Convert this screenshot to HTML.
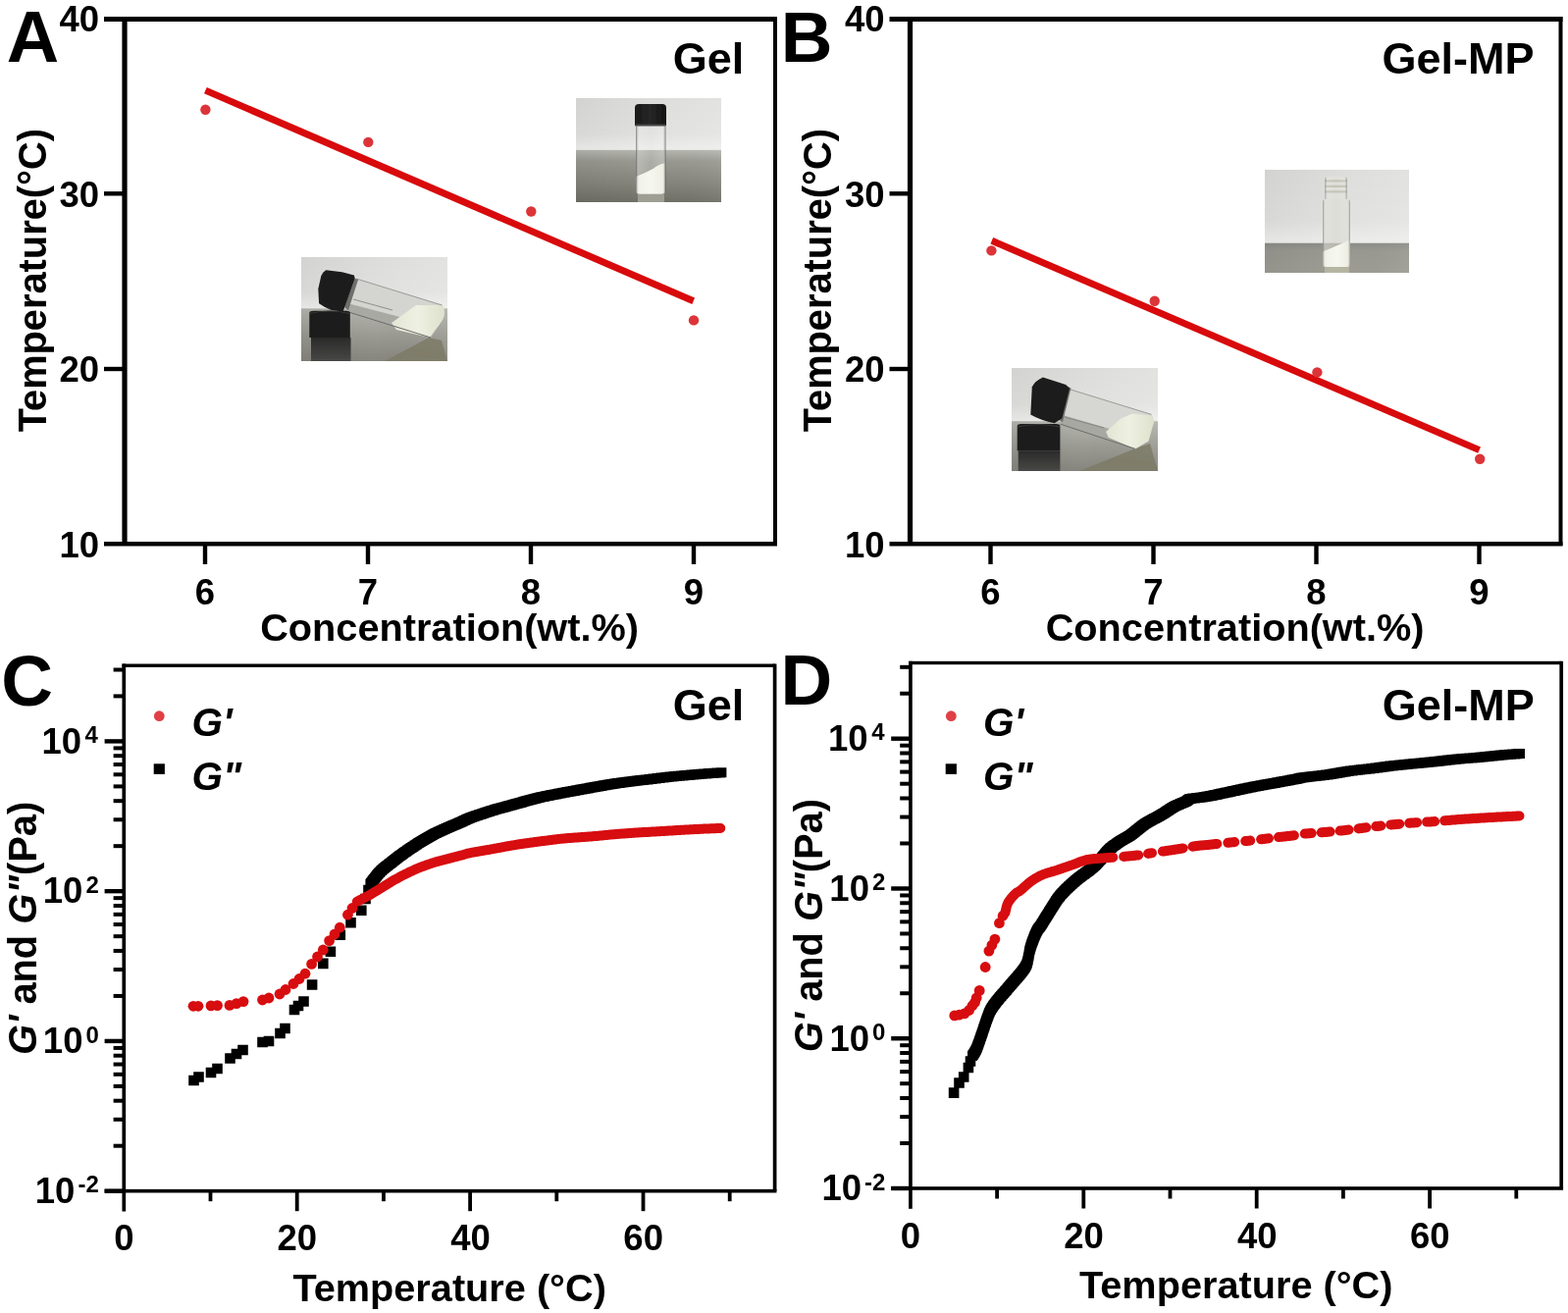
<!DOCTYPE html>
<html><head><meta charset="utf-8"><title>Figure</title>
<style>
html,body{margin:0;padding:0;background:#fff;}
body{width:1598px;height:1338px;overflow:hidden;}
svg{display:block;}
svg text{font-family:"Liberation Sans",Arial,Helvetica,sans-serif;font-weight:bold;fill:#000;}
</style></head><body>
<svg width="1598" height="1338" viewBox="0 0 1598 1338">
<rect width="1598" height="1338" fill="#fff"/>
<rect x="124.00" y="17.00" width="668.00" height="5.00" fill="#000"/>
<rect x="106.00" y="17.00" width="21.00" height="5.00" fill="#000"/>
<rect x="124.40" y="17.00" width="5.20" height="539.00" fill="#000"/>
<rect x="788.00" y="17.00" width="4.00" height="539.00" fill="#000"/>
<rect x="106.00" y="552.00" width="686.00" height="4.50" fill="#000"/>
<rect x="106.00" y="195.10" width="21.00" height="4.40" fill="#000"/>
<rect x="106.00" y="373.80" width="21.00" height="4.40" fill="#000"/>
<rect x="206.80" y="554.00" width="4.40" height="21.00" fill="#000"/>
<rect x="372.80" y="554.00" width="4.40" height="21.00" fill="#000"/>
<rect x="538.80" y="554.00" width="4.40" height="21.00" fill="#000"/>
<rect x="704.80" y="554.00" width="4.40" height="21.00" fill="#000"/>
<text x="60.54" y="31.70" font-size="36.5">40</text>
<text x="60.54" y="210.60" font-size="36.5">30</text>
<text x="60.54" y="389.30" font-size="36.5">20</text>
<text x="60.54" y="568.00" font-size="36.5">10</text>
<text x="198.87" y="615.60" font-size="36.5">6</text>
<text x="364.87" y="615.60" font-size="36.5">7</text>
<text x="530.87" y="615.60" font-size="36.5">8</text>
<text x="696.87" y="615.60" font-size="36.5">9</text>
<text x="265.16" y="652.70" font-size="39.7">Concentration(wt.%)</text>
<text transform="translate(46.60,286.40) rotate(-90)" x="-153.93" y="0" font-size="39.8">Temperature(°C)</text>
<text x="6.65" y="63.10" font-size="74">A</text>
<text x="685.70" y="74.90" font-size="45">Gel</text>
<line x1="209.40" y1="92.10" x2="706.70" y2="306.80" stroke="#d80a0c" stroke-width="7.0" stroke-linecap="butt"/>
<circle cx="209.4" cy="111.8" r="5.2" fill="#dc3438"/>
<circle cx="375.3" cy="144.9" r="5.2" fill="#dc3438"/>
<circle cx="541.3" cy="215.5" r="5.2" fill="#dc3438"/>
<circle cx="707" cy="326.4" r="5.2" fill="#dc3438"/>
<rect x="924.50" y="17.00" width="668.00" height="5.00" fill="#000"/>
<rect x="906.50" y="17.00" width="21.00" height="5.00" fill="#000"/>
<rect x="924.90" y="17.00" width="5.20" height="539.00" fill="#000"/>
<rect x="1588.50" y="17.00" width="4.00" height="539.00" fill="#000"/>
<rect x="906.50" y="552.00" width="686.00" height="4.50" fill="#000"/>
<rect x="906.50" y="195.10" width="21.00" height="4.40" fill="#000"/>
<rect x="906.50" y="373.80" width="21.00" height="4.40" fill="#000"/>
<rect x="1007.30" y="554.00" width="4.40" height="21.00" fill="#000"/>
<rect x="1173.30" y="554.00" width="4.40" height="21.00" fill="#000"/>
<rect x="1339.30" y="554.00" width="4.40" height="21.00" fill="#000"/>
<rect x="1505.30" y="554.00" width="4.40" height="21.00" fill="#000"/>
<text x="861.05" y="31.70" font-size="36.5">40</text>
<text x="861.05" y="210.60" font-size="36.5">30</text>
<text x="861.05" y="389.30" font-size="36.5">20</text>
<text x="861.05" y="568.00" font-size="36.5">10</text>
<text x="999.37" y="615.60" font-size="36.5">6</text>
<text x="1165.37" y="615.60" font-size="36.5">7</text>
<text x="1331.37" y="615.60" font-size="36.5">8</text>
<text x="1497.37" y="615.60" font-size="36.5">9</text>
<text x="1065.66" y="652.70" font-size="39.7">Concentration(wt.%)</text>
<text transform="translate(847.10,286.40) rotate(-90)" x="-153.93" y="0" font-size="39.8">Temperature(°C)</text>
<text x="795.75" y="63.10" font-size="73">B</text>
<text x="1408.53" y="74.90" font-size="45">Gel-MP</text>
<line x1="1010.80" y1="245.30" x2="1507.60" y2="458.60" stroke="#d80a0c" stroke-width="7.0" stroke-linecap="butt"/>
<circle cx="1010.4" cy="255.4" r="5.2" fill="#dc3438"/>
<circle cx="1176.7" cy="306.7" r="5.2" fill="#dc3438"/>
<circle cx="1342.4" cy="379.4" r="5.2" fill="#dc3438"/>
<circle cx="1508.2" cy="467.7" r="5.2" fill="#dc3438"/>
<rect x="124.45" y="676.50" width="665.15" height="3.40" fill="#000"/>
<rect x="787.75" y="676.50" width="3.70" height="537.18" fill="#000"/>
<rect x="124.45" y="676.50" width="3.70" height="558.00" fill="#000"/>
<rect x="106.60" y="1211.88" width="684.85" height="3.60" fill="#000"/>
<rect x="106.60" y="753.20" width="19.70" height="4.40" fill="#000"/>
<rect x="106.60" y="905.96" width="19.70" height="4.40" fill="#000"/>
<rect x="106.60" y="1058.72" width="19.70" height="4.40" fill="#000"/>
<rect x="106.60" y="1211.48" width="19.70" height="4.40" fill="#000"/>
<rect x="115.60" y="860.17" width="10.70" height="4.00" fill="#000"/>
<rect x="115.60" y="833.27" width="10.70" height="4.00" fill="#000"/>
<rect x="115.60" y="814.19" width="10.70" height="4.00" fill="#000"/>
<rect x="115.60" y="799.39" width="10.70" height="4.00" fill="#000"/>
<rect x="115.60" y="787.29" width="10.70" height="4.00" fill="#000"/>
<rect x="115.60" y="777.06" width="10.70" height="4.00" fill="#000"/>
<rect x="115.60" y="768.20" width="10.70" height="4.00" fill="#000"/>
<rect x="115.60" y="760.39" width="10.70" height="4.00" fill="#000"/>
<rect x="115.60" y="1012.93" width="10.70" height="4.00" fill="#000"/>
<rect x="115.60" y="986.03" width="10.70" height="4.00" fill="#000"/>
<rect x="115.60" y="966.95" width="10.70" height="4.00" fill="#000"/>
<rect x="115.60" y="952.15" width="10.70" height="4.00" fill="#000"/>
<rect x="115.60" y="940.05" width="10.70" height="4.00" fill="#000"/>
<rect x="115.60" y="929.82" width="10.70" height="4.00" fill="#000"/>
<rect x="115.60" y="920.96" width="10.70" height="4.00" fill="#000"/>
<rect x="115.60" y="913.15" width="10.70" height="4.00" fill="#000"/>
<rect x="115.60" y="1165.69" width="10.70" height="4.00" fill="#000"/>
<rect x="115.60" y="1138.79" width="10.70" height="4.00" fill="#000"/>
<rect x="115.60" y="1119.71" width="10.70" height="4.00" fill="#000"/>
<rect x="115.60" y="1104.91" width="10.70" height="4.00" fill="#000"/>
<rect x="115.60" y="1092.81" width="10.70" height="4.00" fill="#000"/>
<rect x="115.60" y="1082.58" width="10.70" height="4.00" fill="#000"/>
<rect x="115.60" y="1073.72" width="10.70" height="4.00" fill="#000"/>
<rect x="115.60" y="1065.91" width="10.70" height="4.00" fill="#000"/>
<rect x="115.60" y="707.41" width="10.70" height="4.00" fill="#000"/>
<rect x="115.60" y="680.51" width="10.70" height="4.00" fill="#000"/>
<rect x="212.60" y="1213.68" width="3.80" height="10.50" fill="#000"/>
<rect x="300.80" y="1213.68" width="3.80" height="20.50" fill="#000"/>
<rect x="389.00" y="1213.68" width="3.80" height="10.50" fill="#000"/>
<rect x="477.20" y="1213.68" width="3.80" height="20.50" fill="#000"/>
<rect x="565.40" y="1213.68" width="3.80" height="10.50" fill="#000"/>
<rect x="653.60" y="1213.68" width="3.80" height="20.50" fill="#000"/>
<rect x="741.80" y="1213.68" width="3.80" height="10.50" fill="#000"/>
<text x="116.17" y="1274.20" font-size="36.5">0</text>
<text x="282.53" y="1274.20" font-size="36.5">20</text>
<text x="459.30" y="1274.20" font-size="36.5">40</text>
<text x="635.33" y="1274.20" font-size="36.5">60</text>
<text x="298.40" y="1325.60" font-size="39.7">Temperature (°C)</text>
<text x="86.60" y="757.00" font-size="24">4</text>
<text x="42.40" y="767.70" font-size="36.5">10</text>
<text x="87.44" y="909.76" font-size="24">2</text>
<text x="43.73" y="920.46" font-size="36.5">10</text>
<text x="87.44" y="1062.52" font-size="24">0</text>
<text x="43.85" y="1073.22" font-size="36.5">10</text>
<text x="79.40" y="1215.28" font-size="24">-2</text>
<text x="35.80" y="1225.98" font-size="36.5">10</text>
<text transform="translate(36.80,945.50) rotate(-90)" x="-129.55" y="0" font-size="39.8"><tspan font-style="italic">G'</tspan> and <tspan font-style="italic">G"</tspan>(Pa)</text>
<text x="1.18" y="718.80" font-size="73">C</text>
<text x="685.80" y="734.10" font-size="45">Gel</text>
<circle cx="162.3" cy="729.7" r="5.4" fill="#e04045"/>
<rect x="156.70" y="778.30" width="11.20" height="10.60" fill="#000"/>
<text x="195.38" y="750.30" font-size="40.5" font-style="italic">G'</text>
<text x="195.38" y="805.20" font-size="40.5" font-style="italic">G&quot;</text>
<rect x="926.05" y="673.80" width="665.15" height="3.40" fill="#000"/>
<rect x="1589.35" y="673.80" width="3.70" height="537.18" fill="#000"/>
<rect x="926.05" y="673.80" width="3.70" height="558.00" fill="#000"/>
<rect x="908.20" y="1209.18" width="684.85" height="3.60" fill="#000"/>
<rect x="908.20" y="750.50" width="19.70" height="4.40" fill="#000"/>
<rect x="908.20" y="903.26" width="19.70" height="4.40" fill="#000"/>
<rect x="908.20" y="1056.02" width="19.70" height="4.40" fill="#000"/>
<rect x="908.20" y="1208.78" width="19.70" height="4.40" fill="#000"/>
<rect x="917.20" y="857.47" width="10.70" height="4.00" fill="#000"/>
<rect x="917.20" y="830.57" width="10.70" height="4.00" fill="#000"/>
<rect x="917.20" y="811.49" width="10.70" height="4.00" fill="#000"/>
<rect x="917.20" y="796.69" width="10.70" height="4.00" fill="#000"/>
<rect x="917.20" y="784.59" width="10.70" height="4.00" fill="#000"/>
<rect x="917.20" y="774.36" width="10.70" height="4.00" fill="#000"/>
<rect x="917.20" y="765.50" width="10.70" height="4.00" fill="#000"/>
<rect x="917.20" y="757.69" width="10.70" height="4.00" fill="#000"/>
<rect x="917.20" y="1010.23" width="10.70" height="4.00" fill="#000"/>
<rect x="917.20" y="983.33" width="10.70" height="4.00" fill="#000"/>
<rect x="917.20" y="964.25" width="10.70" height="4.00" fill="#000"/>
<rect x="917.20" y="949.45" width="10.70" height="4.00" fill="#000"/>
<rect x="917.20" y="937.35" width="10.70" height="4.00" fill="#000"/>
<rect x="917.20" y="927.12" width="10.70" height="4.00" fill="#000"/>
<rect x="917.20" y="918.26" width="10.70" height="4.00" fill="#000"/>
<rect x="917.20" y="910.45" width="10.70" height="4.00" fill="#000"/>
<rect x="917.20" y="1162.99" width="10.70" height="4.00" fill="#000"/>
<rect x="917.20" y="1136.09" width="10.70" height="4.00" fill="#000"/>
<rect x="917.20" y="1117.01" width="10.70" height="4.00" fill="#000"/>
<rect x="917.20" y="1102.21" width="10.70" height="4.00" fill="#000"/>
<rect x="917.20" y="1090.11" width="10.70" height="4.00" fill="#000"/>
<rect x="917.20" y="1079.88" width="10.70" height="4.00" fill="#000"/>
<rect x="917.20" y="1071.02" width="10.70" height="4.00" fill="#000"/>
<rect x="917.20" y="1063.21" width="10.70" height="4.00" fill="#000"/>
<rect x="917.20" y="704.71" width="10.70" height="4.00" fill="#000"/>
<rect x="917.20" y="677.81" width="10.70" height="4.00" fill="#000"/>
<rect x="1014.20" y="1210.98" width="3.80" height="10.50" fill="#000"/>
<rect x="1102.40" y="1210.98" width="3.80" height="20.50" fill="#000"/>
<rect x="1190.60" y="1210.98" width="3.80" height="10.50" fill="#000"/>
<rect x="1278.80" y="1210.98" width="3.80" height="20.50" fill="#000"/>
<rect x="1367.00" y="1210.98" width="3.80" height="10.50" fill="#000"/>
<rect x="1455.20" y="1210.98" width="3.80" height="20.50" fill="#000"/>
<rect x="1543.40" y="1210.98" width="3.80" height="10.50" fill="#000"/>
<text x="917.77" y="1271.50" font-size="36.5">0</text>
<text x="1084.13" y="1271.50" font-size="36.5">20</text>
<text x="1260.90" y="1271.50" font-size="36.5">40</text>
<text x="1436.93" y="1271.50" font-size="36.5">60</text>
<text x="1100.00" y="1322.90" font-size="39.7">Temperature (°C)</text>
<text x="888.20" y="754.30" font-size="24">4</text>
<text x="844.00" y="765.00" font-size="36.5">10</text>
<text x="889.04" y="907.06" font-size="24">2</text>
<text x="845.33" y="917.76" font-size="36.5">10</text>
<text x="889.04" y="1059.82" font-size="24">0</text>
<text x="845.45" y="1070.52" font-size="36.5">10</text>
<text x="881.00" y="1212.58" font-size="24">-2</text>
<text x="837.41" y="1223.28" font-size="36.5">10</text>
<text transform="translate(838.40,942.80) rotate(-90)" x="-129.55" y="0" font-size="39.8"><tspan font-style="italic">G'</tspan> and <tspan font-style="italic">G"</tspan>(Pa)</text>
<text x="795.55" y="718.00" font-size="73">D</text>
<text x="1408.73" y="734.10" font-size="45">Gel-MP</text>
<circle cx="969.3" cy="729.7" r="5.4" fill="#e04045"/>
<rect x="963.70" y="778.30" width="11.20" height="10.60" fill="#000"/>
<text x="1001.98" y="750.30" font-size="40.5" font-style="italic">G'</text>
<text x="1001.98" y="805.20" font-size="40.5" font-style="italic">G&quot;</text>
<path d="M192.2 1095.7h10.6v10.6h-10.6zM197.2 1092.2h10.6v10.6h-10.6zM209.7 1087.7h10.6v10.6h-10.6zM216.2 1083.7h10.6v10.6h-10.6zM229.2 1073.2h10.6v10.6h-10.6zM235.7 1068.7h10.6v10.6h-10.6zM242.2 1064.7h10.6v10.6h-10.6zM262.2 1056.7h10.6v10.6h-10.6zM268.7 1055.7h10.6v10.6h-10.6zM280.2 1047.7h10.6v10.6h-10.6zM285.2 1042.7h10.6v10.6h-10.6zM294.7 1023.7h10.6v10.6h-10.6zM298.7 1019.7h10.6v10.6h-10.6zM304.2 1015.2h10.6v10.6h-10.6zM312.8 998.2h10.6v10.6h-10.6zM324.0 976.6h10.6v10.6h-10.6zM331.6 964.5h10.6v10.6h-10.6zM341.5 947.5h10.6v10.6h-10.6zM352.2 934.9h10.6v10.6h-10.6zM363.0 922.4h10.6v10.6h-10.6zM367.2 910.7h10.6v10.6h-10.6zM370.2 901.7h10.6v10.6h-10.6z" fill="#000"/>
<path d="M372.4 895.8h10.0v10.0h-10.0zM373.0 895.0h10.0v10.0h-10.0zM373.6 894.2h10.0v10.0h-10.0zM374.2 893.4h10.0v10.0h-10.0zM374.8 892.6h10.0v10.0h-10.0zM375.4 891.8h10.0v10.0h-10.0zM376.0 891.0h10.0v10.0h-10.0zM376.7 890.2h10.0v10.0h-10.0zM377.3 889.5h10.0v10.0h-10.0zM377.9 888.7h10.0v10.0h-10.0zM378.5 887.9h10.0v10.0h-10.0zM379.1 887.1h10.0v10.0h-10.0zM379.8 886.3h10.0v10.0h-10.0zM380.4 885.6h10.0v10.0h-10.0zM381.1 884.8h10.0v10.0h-10.0zM381.8 884.1h10.0v10.0h-10.0zM382.4 883.4h10.0v10.0h-10.0zM383.2 882.6h10.0v10.0h-10.0zM383.9 882.0h10.0v10.0h-10.0zM384.6 881.3h10.0v10.0h-10.0zM385.4 880.6h10.0v10.0h-10.0zM386.1 880.0h10.0v10.0h-10.0zM386.9 879.3h10.0v10.0h-10.0zM387.7 878.7h10.0v10.0h-10.0zM388.4 878.1h10.0v10.0h-10.0zM389.2 877.5h10.0v10.0h-10.0zM390.0 876.9h10.0v10.0h-10.0zM390.8 876.2h10.0v10.0h-10.0zM391.6 875.6h10.0v10.0h-10.0zM392.4 875.0h10.0v10.0h-10.0zM393.2 874.4h10.0v10.0h-10.0zM394.0 873.8h10.0v10.0h-10.0zM394.8 873.2h10.0v10.0h-10.0zM395.5 872.5h10.0v10.0h-10.0zM396.3 871.9h10.0v10.0h-10.0zM397.1 871.3h10.0v10.0h-10.0zM397.9 870.7h10.0v10.0h-10.0zM398.7 870.1h10.0v10.0h-10.0zM399.5 869.4h10.0v10.0h-10.0zM400.3 868.8h10.0v10.0h-10.0zM401.1 868.2h10.0v10.0h-10.0zM401.9 867.6h10.0v10.0h-10.0zM402.7 867.0h10.0v10.0h-10.0zM403.5 866.4h10.0v10.0h-10.0zM404.3 865.9h10.0v10.0h-10.0zM405.1 865.3h10.0v10.0h-10.0zM405.9 864.7h10.0v10.0h-10.0zM406.7 864.1h10.0v10.0h-10.0zM407.5 863.5h10.0v10.0h-10.0zM408.4 863.0h10.0v10.0h-10.0zM409.2 862.4h10.0v10.0h-10.0zM410.0 861.8h10.0v10.0h-10.0zM410.8 861.3h10.0v10.0h-10.0zM411.6 860.7h10.0v10.0h-10.0zM412.5 860.1h10.0v10.0h-10.0zM413.3 859.6h10.0v10.0h-10.0zM414.1 859.0h10.0v10.0h-10.0zM415.0 858.5h10.0v10.0h-10.0zM415.8 857.9h10.0v10.0h-10.0zM416.6 857.4h10.0v10.0h-10.0zM417.5 856.8h10.0v10.0h-10.0zM418.3 856.3h10.0v10.0h-10.0zM419.1 855.7h10.0v10.0h-10.0zM420.0 855.2h10.0v10.0h-10.0zM420.8 854.6h10.0v10.0h-10.0zM421.7 854.1h10.0v10.0h-10.0zM422.5 853.6h10.0v10.0h-10.0zM423.4 853.0h10.0v10.0h-10.0zM424.2 852.5h10.0v10.0h-10.0zM425.1 852.0h10.0v10.0h-10.0zM425.9 851.5h10.0v10.0h-10.0zM426.8 850.9h10.0v10.0h-10.0zM427.6 850.4h10.0v10.0h-10.0zM428.5 849.9h10.0v10.0h-10.0zM429.3 849.4h10.0v10.0h-10.0zM430.2 848.9h10.0v10.0h-10.0zM431.1 848.4h10.0v10.0h-10.0zM431.9 847.9h10.0v10.0h-10.0zM432.8 847.4h10.0v10.0h-10.0zM433.7 846.9h10.0v10.0h-10.0zM434.6 846.4h10.0v10.0h-10.0zM435.4 846.0h10.0v10.0h-10.0zM436.3 845.5h10.0v10.0h-10.0zM437.2 845.0h10.0v10.0h-10.0zM438.1 844.6h10.0v10.0h-10.0zM439.0 844.1h10.0v10.0h-10.0zM439.9 843.7h10.0v10.0h-10.0zM440.8 843.3h10.0v10.0h-10.0zM441.7 842.8h10.0v10.0h-10.0zM442.6 842.4h10.0v10.0h-10.0zM443.5 842.0h10.0v10.0h-10.0zM444.4 841.6h10.0v10.0h-10.0zM445.3 841.2h10.0v10.0h-10.0zM446.3 840.8h10.0v10.0h-10.0zM447.2 840.3h10.0v10.0h-10.0zM448.1 839.9h10.0v10.0h-10.0zM449.0 839.5h10.0v10.0h-10.0zM449.9 839.1h10.0v10.0h-10.0zM450.8 838.7h10.0v10.0h-10.0zM451.7 838.3h10.0v10.0h-10.0zM452.6 837.9h10.0v10.0h-10.0zM453.6 837.5h10.0v10.0h-10.0zM454.5 837.1h10.0v10.0h-10.0zM455.4 836.7h10.0v10.0h-10.0zM456.3 836.3h10.0v10.0h-10.0zM457.2 835.9h10.0v10.0h-10.0zM458.2 835.6h10.0v10.0h-10.0zM459.1 835.2h10.0v10.0h-10.0zM460.0 834.8h10.0v10.0h-10.0zM460.9 834.4h10.0v10.0h-10.0zM461.9 834.0h10.0v10.0h-10.0zM462.8 833.6h10.0v10.0h-10.0zM463.7 833.2h10.0v10.0h-10.0zM464.6 832.8h10.0v10.0h-10.0zM465.5 832.4h10.0v10.0h-10.0zM466.4 832.0h10.0v10.0h-10.0zM467.3 831.6h10.0v10.0h-10.0zM468.2 831.1h10.0v10.0h-10.0zM469.1 830.7h10.0v10.0h-10.0zM470.0 830.3h10.0v10.0h-10.0zM470.9 829.8h10.0v10.0h-10.0zM471.9 829.4h10.0v10.0h-10.0zM472.8 829.1h10.0v10.0h-10.0zM473.7 828.7h10.0v10.0h-10.0zM474.6 828.3h10.0v10.0h-10.0zM475.6 828.0h10.0v10.0h-10.0zM476.5 827.6h10.0v10.0h-10.0zM477.5 827.3h10.0v10.0h-10.0zM478.4 827.0h10.0v10.0h-10.0zM479.4 826.6h10.0v10.0h-10.0zM480.3 826.3h10.0v10.0h-10.0zM481.2 826.0h10.0v10.0h-10.0zM482.2 825.7h10.0v10.0h-10.0zM483.1 825.3h10.0v10.0h-10.0zM484.1 825.0h10.0v10.0h-10.0zM485.0 824.7h10.0v10.0h-10.0zM486.0 824.4h10.0v10.0h-10.0zM486.9 824.1h10.0v10.0h-10.0zM487.9 823.7h10.0v10.0h-10.0zM488.8 823.4h10.0v10.0h-10.0zM489.8 823.1h10.0v10.0h-10.0zM490.7 822.8h10.0v10.0h-10.0zM491.7 822.5h10.0v10.0h-10.0zM492.6 822.2h10.0v10.0h-10.0zM493.6 821.9h10.0v10.0h-10.0zM494.5 821.6h10.0v10.0h-10.0zM495.5 821.3h10.0v10.0h-10.0zM496.4 821.0h10.0v10.0h-10.0zM497.4 820.7h10.0v10.0h-10.0zM498.4 820.4h10.0v10.0h-10.0zM499.3 820.1h10.0v10.0h-10.0zM500.3 819.8h10.0v10.0h-10.0zM501.2 819.6h10.0v10.0h-10.0zM502.2 819.3h10.0v10.0h-10.0zM503.2 819.0h10.0v10.0h-10.0zM504.1 818.7h10.0v10.0h-10.0zM505.1 818.5h10.0v10.0h-10.0zM506.0 818.2h10.0v10.0h-10.0zM507.0 817.9h10.0v10.0h-10.0zM508.0 817.7h10.0v10.0h-10.0zM508.9 817.4h10.0v10.0h-10.0zM509.9 817.2h10.0v10.0h-10.0zM510.9 816.9h10.0v10.0h-10.0zM511.8 816.6h10.0v10.0h-10.0zM512.8 816.4h10.0v10.0h-10.0zM513.8 816.1h10.0v10.0h-10.0zM514.7 815.9h10.0v10.0h-10.0zM515.7 815.6h10.0v10.0h-10.0zM516.7 815.4h10.0v10.0h-10.0zM517.6 815.1h10.0v10.0h-10.0zM518.6 814.8h10.0v10.0h-10.0zM519.6 814.6h10.0v10.0h-10.0zM520.5 814.3h10.0v10.0h-10.0zM521.5 814.0h10.0v10.0h-10.0zM522.5 813.8h10.0v10.0h-10.0zM523.4 813.5h10.0v10.0h-10.0zM524.4 813.2h10.0v10.0h-10.0zM525.3 812.9h10.0v10.0h-10.0zM526.3 812.7h10.0v10.0h-10.0zM527.3 812.4h10.0v10.0h-10.0zM528.2 812.1h10.0v10.0h-10.0zM529.2 811.8h10.0v10.0h-10.0zM530.1 811.6h10.0v10.0h-10.0zM531.1 811.3h10.0v10.0h-10.0zM532.1 811.0h10.0v10.0h-10.0zM533.0 810.7h10.0v10.0h-10.0zM534.0 810.5h10.0v10.0h-10.0zM535.0 810.2h10.0v10.0h-10.0zM535.9 809.9h10.0v10.0h-10.0zM536.9 809.7h10.0v10.0h-10.0zM537.9 809.4h10.0v10.0h-10.0zM538.8 809.2h10.0v10.0h-10.0zM539.8 808.9h10.0v10.0h-10.0zM540.8 808.7h10.0v10.0h-10.0zM541.7 808.4h10.0v10.0h-10.0zM542.7 808.2h10.0v10.0h-10.0zM543.7 808.0h10.0v10.0h-10.0zM544.7 807.8h10.0v10.0h-10.0zM545.6 807.5h10.0v10.0h-10.0zM546.6 807.3h10.0v10.0h-10.0zM547.6 807.1h10.0v10.0h-10.0zM548.6 806.9h10.0v10.0h-10.0zM549.5 806.7h10.0v10.0h-10.0zM550.5 806.5h10.0v10.0h-10.0zM551.5 806.3h10.0v10.0h-10.0zM552.5 806.1h10.0v10.0h-10.0zM553.5 805.9h10.0v10.0h-10.0zM554.4 805.7h10.0v10.0h-10.0zM555.4 805.5h10.0v10.0h-10.0zM556.4 805.3h10.0v10.0h-10.0zM557.4 805.1h10.0v10.0h-10.0zM558.4 804.9h10.0v10.0h-10.0zM559.3 804.7h10.0v10.0h-10.0zM560.3 804.6h10.0v10.0h-10.0zM561.3 804.4h10.0v10.0h-10.0zM562.3 804.2h10.0v10.0h-10.0zM563.3 804.0h10.0v10.0h-10.0zM564.3 803.8h10.0v10.0h-10.0zM565.2 803.6h10.0v10.0h-10.0zM566.2 803.4h10.0v10.0h-10.0zM567.2 803.2h10.0v10.0h-10.0zM568.2 803.0h10.0v10.0h-10.0zM569.2 802.8h10.0v10.0h-10.0zM570.1 802.7h10.0v10.0h-10.0zM571.1 802.5h10.0v10.0h-10.0zM572.1 802.3h10.0v10.0h-10.0zM573.1 802.1h10.0v10.0h-10.0zM574.1 802.0h10.0v10.0h-10.0zM575.1 801.8h10.0v10.0h-10.0zM576.1 801.6h10.0v10.0h-10.0zM577.0 801.4h10.0v10.0h-10.0zM578.0 801.2h10.0v10.0h-10.0zM579.0 801.1h10.0v10.0h-10.0zM580.0 800.9h10.0v10.0h-10.0zM581.0 800.7h10.0v10.0h-10.0zM582.0 800.5h10.0v10.0h-10.0zM582.9 800.3h10.0v10.0h-10.0zM583.9 800.2h10.0v10.0h-10.0zM584.9 800.0h10.0v10.0h-10.0zM585.9 799.8h10.0v10.0h-10.0zM586.9 799.6h10.0v10.0h-10.0zM587.9 799.4h10.0v10.0h-10.0zM588.8 799.3h10.0v10.0h-10.0zM589.8 799.1h10.0v10.0h-10.0zM590.8 798.9h10.0v10.0h-10.0zM591.8 798.7h10.0v10.0h-10.0zM592.8 798.5h10.0v10.0h-10.0zM593.8 798.4h10.0v10.0h-10.0zM594.7 798.2h10.0v10.0h-10.0zM595.7 798.0h10.0v10.0h-10.0zM596.7 797.8h10.0v10.0h-10.0zM597.7 797.6h10.0v10.0h-10.0zM598.7 797.5h10.0v10.0h-10.0zM599.7 797.3h10.0v10.0h-10.0zM600.6 797.1h10.0v10.0h-10.0zM601.6 796.9h10.0v10.0h-10.0zM602.6 796.8h10.0v10.0h-10.0zM603.6 796.6h10.0v10.0h-10.0zM604.6 796.4h10.0v10.0h-10.0zM605.6 796.2h10.0v10.0h-10.0zM606.6 796.0h10.0v10.0h-10.0zM607.5 795.9h10.0v10.0h-10.0zM608.5 795.7h10.0v10.0h-10.0zM609.5 795.5h10.0v10.0h-10.0zM610.5 795.3h10.0v10.0h-10.0zM611.5 795.2h10.0v10.0h-10.0zM612.5 795.0h10.0v10.0h-10.0zM613.4 794.8h10.0v10.0h-10.0zM614.4 794.7h10.0v10.0h-10.0zM615.4 794.5h10.0v10.0h-10.0zM616.4 794.3h10.0v10.0h-10.0zM617.4 794.2h10.0v10.0h-10.0zM618.4 794.0h10.0v10.0h-10.0zM619.4 793.9h10.0v10.0h-10.0zM620.4 793.7h10.0v10.0h-10.0zM621.3 793.6h10.0v10.0h-10.0zM622.3 793.4h10.0v10.0h-10.0zM623.3 793.3h10.0v10.0h-10.0zM624.3 793.1h10.0v10.0h-10.0zM625.3 793.0h10.0v10.0h-10.0zM626.3 792.9h10.0v10.0h-10.0zM627.3 792.7h10.0v10.0h-10.0zM628.3 792.6h10.0v10.0h-10.0zM629.3 792.5h10.0v10.0h-10.0zM630.3 792.3h10.0v10.0h-10.0zM631.3 792.2h10.0v10.0h-10.0zM632.2 792.1h10.0v10.0h-10.0zM633.2 791.9h10.0v10.0h-10.0zM634.2 791.8h10.0v10.0h-10.0zM635.2 791.7h10.0v10.0h-10.0zM636.2 791.6h10.0v10.0h-10.0zM637.2 791.4h10.0v10.0h-10.0zM638.2 791.3h10.0v10.0h-10.0zM639.2 791.2h10.0v10.0h-10.0zM640.2 791.1h10.0v10.0h-10.0zM641.2 790.9h10.0v10.0h-10.0zM642.2 790.8h10.0v10.0h-10.0zM643.2 790.7h10.0v10.0h-10.0zM644.1 790.6h10.0v10.0h-10.0zM645.1 790.5h10.0v10.0h-10.0zM646.1 790.3h10.0v10.0h-10.0zM647.1 790.2h10.0v10.0h-10.0zM648.1 790.1h10.0v10.0h-10.0zM649.1 790.0h10.0v10.0h-10.0zM650.1 789.9h10.0v10.0h-10.0zM651.1 789.8h10.0v10.0h-10.0zM652.1 789.7h10.0v10.0h-10.0zM653.1 789.6h10.0v10.0h-10.0zM654.1 789.5h10.0v10.0h-10.0zM655.1 789.4h10.0v10.0h-10.0zM656.1 789.3h10.0v10.0h-10.0zM657.1 789.1h10.0v10.0h-10.0zM658.1 789.0h10.0v10.0h-10.0zM659.1 788.9h10.0v10.0h-10.0zM660.0 788.8h10.0v10.0h-10.0zM661.0 788.6h10.0v10.0h-10.0zM662.0 788.5h10.0v10.0h-10.0zM663.0 788.4h10.0v10.0h-10.0zM664.0 788.3h10.0v10.0h-10.0zM665.0 788.1h10.0v10.0h-10.0zM666.0 788.0h10.0v10.0h-10.0zM667.0 787.9h10.0v10.0h-10.0zM668.0 787.8h10.0v10.0h-10.0zM669.0 787.6h10.0v10.0h-10.0zM670.0 787.5h10.0v10.0h-10.0zM671.0 787.4h10.0v10.0h-10.0zM672.0 787.3h10.0v10.0h-10.0zM672.9 787.2h10.0v10.0h-10.0zM673.9 787.0h10.0v10.0h-10.0zM674.9 786.9h10.0v10.0h-10.0zM675.9 786.8h10.0v10.0h-10.0zM676.9 786.7h10.0v10.0h-10.0zM677.9 786.6h10.0v10.0h-10.0zM678.9 786.5h10.0v10.0h-10.0zM679.9 786.4h10.0v10.0h-10.0zM680.9 786.3h10.0v10.0h-10.0zM681.9 786.2h10.0v10.0h-10.0zM682.9 786.1h10.0v10.0h-10.0zM683.9 786.0h10.0v10.0h-10.0zM684.9 785.9h10.0v10.0h-10.0zM685.9 785.8h10.0v10.0h-10.0zM686.9 785.8h10.0v10.0h-10.0zM687.9 785.7h10.0v10.0h-10.0zM688.9 785.6h10.0v10.0h-10.0zM689.9 785.5h10.0v10.0h-10.0zM690.9 785.4h10.0v10.0h-10.0zM691.9 785.3h10.0v10.0h-10.0zM692.9 785.2h10.0v10.0h-10.0zM693.8 785.1h10.0v10.0h-10.0zM694.8 785.0h10.0v10.0h-10.0zM695.8 785.0h10.0v10.0h-10.0zM696.8 784.9h10.0v10.0h-10.0zM697.8 784.8h10.0v10.0h-10.0zM698.8 784.7h10.0v10.0h-10.0zM699.8 784.6h10.0v10.0h-10.0zM700.8 784.5h10.0v10.0h-10.0zM701.8 784.4h10.0v10.0h-10.0zM702.8 784.3h10.0v10.0h-10.0zM703.8 784.3h10.0v10.0h-10.0zM704.8 784.2h10.0v10.0h-10.0zM705.8 784.1h10.0v10.0h-10.0zM706.8 784.0h10.0v10.0h-10.0zM707.8 783.9h10.0v10.0h-10.0zM708.8 783.8h10.0v10.0h-10.0zM709.8 783.8h10.0v10.0h-10.0zM710.8 783.7h10.0v10.0h-10.0zM711.8 783.6h10.0v10.0h-10.0zM712.8 783.5h10.0v10.0h-10.0zM713.8 783.4h10.0v10.0h-10.0zM714.8 783.4h10.0v10.0h-10.0zM715.8 783.3h10.0v10.0h-10.0zM716.8 783.2h10.0v10.0h-10.0zM717.8 783.1h10.0v10.0h-10.0zM718.8 783.1h10.0v10.0h-10.0zM719.8 783.0h10.0v10.0h-10.0zM720.8 782.9h10.0v10.0h-10.0zM721.8 782.9h10.0v10.0h-10.0zM722.8 782.8h10.0v10.0h-10.0zM723.7 782.7h10.0v10.0h-10.0zM724.7 782.7h10.0v10.0h-10.0zM725.7 782.6h10.0v10.0h-10.0zM726.7 782.5h10.0v10.0h-10.0zM727.7 782.5h10.0v10.0h-10.0zM728.7 782.4h10.0v10.0h-10.0zM729.7 782.3h10.0v10.0h-10.0zM730.4 782.3h10.0v10.0h-10.0z" fill="#000"/>
<path d="M966.8 1108.3h10.6v10.6h-10.6zM972.2 1098.2h10.6v10.6h-10.6zM976.9 1092.2h10.6v10.6h-10.6zM981.6 1082.7h10.6v10.6h-10.6zM983.7 1076.2h10.6v10.6h-10.6z" fill="#000"/>
<path d="M986.0 1070.9h10.0v10.0h-10.0zM986.6 1070.1h10.0v10.0h-10.0zM987.1 1069.3h10.0v10.0h-10.0zM987.7 1068.4h10.0v10.0h-10.0zM988.2 1067.6h10.0v10.0h-10.0zM988.7 1066.7h10.0v10.0h-10.0zM989.2 1065.8h10.0v10.0h-10.0zM989.7 1064.9h10.0v10.0h-10.0zM990.1 1064.0h10.0v10.0h-10.0zM990.5 1063.1h10.0v10.0h-10.0zM990.8 1062.2h10.0v10.0h-10.0zM991.2 1061.2h10.0v10.0h-10.0zM991.5 1060.3h10.0v10.0h-10.0zM991.9 1059.4h10.0v10.0h-10.0zM992.2 1058.4h10.0v10.0h-10.0zM992.6 1057.5h10.0v10.0h-10.0zM992.9 1056.6h10.0v10.0h-10.0zM993.2 1055.6h10.0v10.0h-10.0zM993.6 1054.7h10.0v10.0h-10.0zM993.9 1053.7h10.0v10.0h-10.0zM994.2 1052.8h10.0v10.0h-10.0zM994.5 1051.8h10.0v10.0h-10.0zM994.9 1050.9h10.0v10.0h-10.0zM995.2 1049.9h10.0v10.0h-10.0zM995.5 1049.0h10.0v10.0h-10.0zM995.9 1048.1h10.0v10.0h-10.0zM996.2 1047.1h10.0v10.0h-10.0zM996.5 1046.2h10.0v10.0h-10.0zM996.8 1045.2h10.0v10.0h-10.0zM997.1 1044.3h10.0v10.0h-10.0zM997.4 1043.3h10.0v10.0h-10.0zM997.7 1042.4h10.0v10.0h-10.0zM998.1 1041.4h10.0v10.0h-10.0zM998.4 1040.5h10.0v10.0h-10.0zM998.7 1039.5h10.0v10.0h-10.0zM999.0 1038.6h10.0v10.0h-10.0zM999.4 1037.6h10.0v10.0h-10.0zM999.7 1036.7h10.0v10.0h-10.0zM1000.0 1035.7h10.0v10.0h-10.0zM1000.3 1034.8h10.0v10.0h-10.0zM1000.7 1033.8h10.0v10.0h-10.0zM1001.0 1032.9h10.0v10.0h-10.0zM1001.4 1032.0h10.0v10.0h-10.0zM1001.7 1031.0h10.0v10.0h-10.0zM1002.1 1030.1h10.0v10.0h-10.0zM1002.4 1029.2h10.0v10.0h-10.0zM1002.7 1028.2h10.0v10.0h-10.0zM1003.1 1027.3h10.0v10.0h-10.0zM1003.5 1026.4h10.0v10.0h-10.0zM1003.9 1025.5h10.0v10.0h-10.0zM1004.4 1024.6h10.0v10.0h-10.0zM1004.9 1023.7h10.0v10.0h-10.0zM1005.4 1022.8h10.0v10.0h-10.0zM1005.9 1022.0h10.0v10.0h-10.0zM1006.5 1021.2h10.0v10.0h-10.0zM1007.0 1020.3h10.0v10.0h-10.0zM1007.6 1019.5h10.0v10.0h-10.0zM1008.2 1018.7h10.0v10.0h-10.0zM1008.8 1017.9h10.0v10.0h-10.0zM1009.4 1017.1h10.0v10.0h-10.0zM1010.0 1016.3h10.0v10.0h-10.0zM1010.6 1015.5h10.0v10.0h-10.0zM1011.2 1014.7h10.0v10.0h-10.0zM1011.9 1014.0h10.0v10.0h-10.0zM1012.5 1013.2h10.0v10.0h-10.0zM1013.1 1012.4h10.0v10.0h-10.0zM1013.8 1011.6h10.0v10.0h-10.0zM1014.4 1010.9h10.0v10.0h-10.0zM1015.1 1010.1h10.0v10.0h-10.0zM1015.7 1009.4h10.0v10.0h-10.0zM1016.4 1008.6h10.0v10.0h-10.0zM1017.1 1007.9h10.0v10.0h-10.0zM1017.7 1007.1h10.0v10.0h-10.0zM1018.4 1006.4h10.0v10.0h-10.0zM1019.1 1005.6h10.0v10.0h-10.0zM1019.7 1004.9h10.0v10.0h-10.0zM1020.4 1004.1h10.0v10.0h-10.0zM1021.0 1003.4h10.0v10.0h-10.0zM1021.7 1002.6h10.0v10.0h-10.0zM1022.3 1001.8h10.0v10.0h-10.0zM1023.0 1001.1h10.0v10.0h-10.0zM1023.6 1000.3h10.0v10.0h-10.0zM1024.3 999.6h10.0v10.0h-10.0zM1024.9 998.8h10.0v10.0h-10.0zM1025.6 998.1h10.0v10.0h-10.0zM1026.2 997.3h10.0v10.0h-10.0zM1026.9 996.5h10.0v10.0h-10.0zM1027.5 995.8h10.0v10.0h-10.0zM1028.2 995.0h10.0v10.0h-10.0zM1028.8 994.3h10.0v10.0h-10.0zM1029.5 993.5h10.0v10.0h-10.0zM1030.2 992.8h10.0v10.0h-10.0zM1030.8 992.0h10.0v10.0h-10.0zM1031.5 991.3h10.0v10.0h-10.0zM1032.1 990.5h10.0v10.0h-10.0zM1032.8 989.8h10.0v10.0h-10.0zM1033.4 989.0h10.0v10.0h-10.0zM1034.1 988.2h10.0v10.0h-10.0zM1034.7 987.5h10.0v10.0h-10.0zM1035.3 986.7h10.0v10.0h-10.0zM1036.0 985.9h10.0v10.0h-10.0zM1036.6 985.1h10.0v10.0h-10.0zM1037.2 984.3h10.0v10.0h-10.0zM1037.8 983.5h10.0v10.0h-10.0zM1038.4 982.7h10.0v10.0h-10.0zM1038.9 981.9h10.0v10.0h-10.0zM1039.5 981.0h10.0v10.0h-10.0zM1040.0 980.2h10.0v10.0h-10.0zM1040.5 979.3h10.0v10.0h-10.0zM1040.9 978.4h10.0v10.0h-10.0zM1041.4 977.5h10.0v10.0h-10.0zM1041.7 976.6h10.0v10.0h-10.0zM1042.0 975.6h10.0v10.0h-10.0zM1042.2 974.6h10.0v10.0h-10.0zM1042.5 973.7h10.0v10.0h-10.0zM1042.7 972.7h10.0v10.0h-10.0zM1042.8 971.7h10.0v10.0h-10.0zM1043.0 970.7h10.0v10.0h-10.0zM1043.3 969.7h10.0v10.0h-10.0zM1043.5 968.8h10.0v10.0h-10.0zM1043.6 967.8h10.0v10.0h-10.0zM1043.8 966.8h10.0v10.0h-10.0zM1044.0 965.8h10.0v10.0h-10.0zM1044.1 964.8h10.0v10.0h-10.0zM1044.3 963.8h10.0v10.0h-10.0zM1044.6 962.9h10.0v10.0h-10.0zM1044.8 961.9h10.0v10.0h-10.0zM1045.1 960.9h10.0v10.0h-10.0zM1045.4 960.0h10.0v10.0h-10.0zM1045.7 959.0h10.0v10.0h-10.0zM1046.0 958.1h10.0v10.0h-10.0zM1046.3 957.1h10.0v10.0h-10.0zM1046.6 956.2h10.0v10.0h-10.0zM1047.0 955.2h10.0v10.0h-10.0zM1047.3 954.3h10.0v10.0h-10.0zM1047.7 953.4h10.0v10.0h-10.0zM1048.0 952.4h10.0v10.0h-10.0zM1048.4 951.5h10.0v10.0h-10.0zM1048.8 950.6h10.0v10.0h-10.0zM1049.1 949.6h10.0v10.0h-10.0zM1049.5 948.7h10.0v10.0h-10.0zM1049.9 947.8h10.0v10.0h-10.0zM1050.3 946.9h10.0v10.0h-10.0zM1050.7 946.0h10.0v10.0h-10.0zM1051.1 945.1h10.0v10.0h-10.0zM1051.6 944.2h10.0v10.0h-10.0zM1052.0 943.3h10.0v10.0h-10.0zM1052.5 942.4h10.0v10.0h-10.0zM1053.1 941.6h10.0v10.0h-10.0zM1053.7 940.8h10.0v10.0h-10.0zM1054.3 940.0h10.0v10.0h-10.0zM1054.9 939.2h10.0v10.0h-10.0zM1055.5 938.4h10.0v10.0h-10.0zM1056.1 937.6h10.0v10.0h-10.0zM1056.6 936.7h10.0v10.0h-10.0zM1057.1 935.9h10.0v10.0h-10.0zM1057.7 935.0h10.0v10.0h-10.0zM1058.2 934.2h10.0v10.0h-10.0zM1058.7 933.3h10.0v10.0h-10.0zM1059.2 932.5h10.0v10.0h-10.0zM1059.8 931.6h10.0v10.0h-10.0zM1060.3 930.8h10.0v10.0h-10.0zM1060.8 929.9h10.0v10.0h-10.0zM1061.3 929.1h10.0v10.0h-10.0zM1061.9 928.2h10.0v10.0h-10.0zM1062.4 927.4h10.0v10.0h-10.0zM1062.9 926.5h10.0v10.0h-10.0zM1063.5 925.7h10.0v10.0h-10.0zM1064.0 924.8h10.0v10.0h-10.0zM1064.5 924.0h10.0v10.0h-10.0zM1065.1 923.1h10.0v10.0h-10.0zM1065.6 922.3h10.0v10.0h-10.0zM1066.1 921.5h10.0v10.0h-10.0zM1066.7 920.6h10.0v10.0h-10.0zM1067.2 919.8h10.0v10.0h-10.0zM1067.7 918.9h10.0v10.0h-10.0zM1068.2 918.1h10.0v10.0h-10.0zM1068.8 917.2h10.0v10.0h-10.0zM1069.3 916.4h10.0v10.0h-10.0zM1069.8 915.5h10.0v10.0h-10.0zM1070.4 914.7h10.0v10.0h-10.0zM1070.9 913.8h10.0v10.0h-10.0zM1071.4 913.0h10.0v10.0h-10.0zM1072.0 912.2h10.0v10.0h-10.0zM1072.6 911.3h10.0v10.0h-10.0zM1073.2 910.5h10.0v10.0h-10.0zM1073.8 909.7h10.0v10.0h-10.0zM1074.4 908.9h10.0v10.0h-10.0zM1075.0 908.2h10.0v10.0h-10.0zM1075.6 907.4h10.0v10.0h-10.0zM1076.3 906.6h10.0v10.0h-10.0zM1077.0 905.9h10.0v10.0h-10.0zM1077.6 905.1h10.0v10.0h-10.0zM1078.3 904.4h10.0v10.0h-10.0zM1079.0 903.7h10.0v10.0h-10.0zM1079.7 903.0h10.0v10.0h-10.0zM1080.4 902.3h10.0v10.0h-10.0zM1081.1 901.5h10.0v10.0h-10.0zM1081.8 900.8h10.0v10.0h-10.0zM1082.5 900.2h10.0v10.0h-10.0zM1083.3 899.5h10.0v10.0h-10.0zM1084.0 898.8h10.0v10.0h-10.0zM1084.7 898.1h10.0v10.0h-10.0zM1085.5 897.4h10.0v10.0h-10.0zM1086.2 896.7h10.0v10.0h-10.0zM1086.9 896.1h10.0v10.0h-10.0zM1087.7 895.4h10.0v10.0h-10.0zM1088.4 894.7h10.0v10.0h-10.0zM1089.2 894.1h10.0v10.0h-10.0zM1089.9 893.4h10.0v10.0h-10.0zM1090.7 892.8h10.0v10.0h-10.0zM1091.4 892.1h10.0v10.0h-10.0zM1092.2 891.5h10.0v10.0h-10.0zM1093.0 890.8h10.0v10.0h-10.0zM1093.8 890.2h10.0v10.0h-10.0zM1094.6 889.6h10.0v10.0h-10.0zM1095.3 889.0h10.0v10.0h-10.0zM1096.1 888.4h10.0v10.0h-10.0zM1096.9 887.8h10.0v10.0h-10.0zM1097.7 887.2h10.0v10.0h-10.0zM1098.6 886.6h10.0v10.0h-10.0zM1099.4 886.0h10.0v10.0h-10.0zM1100.2 885.4h10.0v10.0h-10.0zM1101.0 884.8h10.0v10.0h-10.0zM1101.8 884.3h10.0v10.0h-10.0zM1102.6 883.7h10.0v10.0h-10.0zM1103.4 883.1h10.0v10.0h-10.0zM1104.2 882.5h10.0v10.0h-10.0zM1105.0 881.9h10.0v10.0h-10.0zM1105.8 881.3h10.0v10.0h-10.0zM1106.6 880.6h10.0v10.0h-10.0zM1107.3 880.0h10.0v10.0h-10.0zM1108.1 879.3h10.0v10.0h-10.0zM1108.9 878.7h10.0v10.0h-10.0zM1109.6 878.0h10.0v10.0h-10.0zM1110.3 877.3h10.0v10.0h-10.0zM1111.1 876.7h10.0v10.0h-10.0zM1111.8 876.0h10.0v10.0h-10.0zM1112.5 875.2h10.0v10.0h-10.0zM1113.2 874.5h10.0v10.0h-10.0zM1113.9 873.8h10.0v10.0h-10.0zM1114.5 873.1h10.0v10.0h-10.0zM1115.2 872.3h10.0v10.0h-10.0zM1115.9 871.6h10.0v10.0h-10.0zM1116.6 870.9h10.0v10.0h-10.0zM1117.2 870.1h10.0v10.0h-10.0zM1117.9 869.3h10.0v10.0h-10.0zM1118.5 868.6h10.0v10.0h-10.0zM1119.1 867.8h10.0v10.0h-10.0zM1119.8 867.0h10.0v10.0h-10.0zM1120.4 866.2h10.0v10.0h-10.0zM1121.0 865.4h10.0v10.0h-10.0zM1121.6 864.7h10.0v10.0h-10.0zM1122.3 863.9h10.0v10.0h-10.0zM1122.9 863.1h10.0v10.0h-10.0zM1123.6 862.4h10.0v10.0h-10.0zM1124.3 861.7h10.0v10.0h-10.0zM1125.0 861.0h10.0v10.0h-10.0zM1125.8 860.3h10.0v10.0h-10.0zM1126.5 859.6h10.0v10.0h-10.0zM1127.3 859.0h10.0v10.0h-10.0zM1128.0 858.4h10.0v10.0h-10.0zM1128.8 857.8h10.0v10.0h-10.0zM1129.6 857.1h10.0v10.0h-10.0zM1130.4 856.5h10.0v10.0h-10.0zM1131.2 856.0h10.0v10.0h-10.0zM1132.0 855.4h10.0v10.0h-10.0zM1132.9 854.8h10.0v10.0h-10.0zM1133.7 854.2h10.0v10.0h-10.0zM1134.5 853.7h10.0v10.0h-10.0zM1135.3 853.1h10.0v10.0h-10.0zM1136.2 852.5h10.0v10.0h-10.0zM1137.0 852.0h10.0v10.0h-10.0zM1137.8 851.4h10.0v10.0h-10.0zM1138.7 850.9h10.0v10.0h-10.0zM1139.6 850.4h10.0v10.0h-10.0zM1140.4 850.0h10.0v10.0h-10.0zM1141.3 849.5h10.0v10.0h-10.0zM1142.2 849.0h10.0v10.0h-10.0zM1143.1 848.5h10.0v10.0h-10.0zM1143.9 848.0h10.0v10.0h-10.0zM1144.8 847.5h10.0v10.0h-10.0zM1145.6 847.0h10.0v10.0h-10.0zM1146.5 846.4h10.0v10.0h-10.0zM1147.3 845.9h10.0v10.0h-10.0zM1148.1 845.3h10.0v10.0h-10.0zM1148.9 844.7h10.0v10.0h-10.0zM1149.7 844.1h10.0v10.0h-10.0zM1150.5 843.5h10.0v10.0h-10.0zM1151.3 842.8h10.0v10.0h-10.0zM1152.1 842.2h10.0v10.0h-10.0zM1152.8 841.6h10.0v10.0h-10.0zM1153.6 840.9h10.0v10.0h-10.0zM1154.4 840.3h10.0v10.0h-10.0zM1155.2 839.7h10.0v10.0h-10.0zM1155.9 839.1h10.0v10.0h-10.0zM1156.7 838.4h10.0v10.0h-10.0zM1157.5 837.8h10.0v10.0h-10.0zM1158.3 837.2h10.0v10.0h-10.0zM1159.1 836.6h10.0v10.0h-10.0zM1159.9 836.0h10.0v10.0h-10.0zM1160.7 835.4h10.0v10.0h-10.0zM1161.5 834.8h10.0v10.0h-10.0zM1162.3 834.2h10.0v10.0h-10.0zM1163.2 833.7h10.0v10.0h-10.0zM1164.0 833.2h10.0v10.0h-10.0zM1164.9 832.7h10.0v10.0h-10.0zM1165.7 832.2h10.0v10.0h-10.0zM1166.6 831.7h10.0v10.0h-10.0zM1167.5 831.2h10.0v10.0h-10.0zM1168.4 830.7h10.0v10.0h-10.0zM1169.3 830.3h10.0v10.0h-10.0zM1170.2 829.8h10.0v10.0h-10.0zM1171.0 829.3h10.0v10.0h-10.0zM1171.9 828.9h10.0v10.0h-10.0zM1172.8 828.4h10.0v10.0h-10.0zM1173.7 828.0h10.0v10.0h-10.0zM1174.6 827.5h10.0v10.0h-10.0zM1175.5 827.0h10.0v10.0h-10.0zM1176.4 826.5h10.0v10.0h-10.0zM1177.2 826.0h10.0v10.0h-10.0zM1178.1 825.5h10.0v10.0h-10.0zM1178.9 825.0h10.0v10.0h-10.0zM1179.8 824.5h10.0v10.0h-10.0zM1180.6 824.0h10.0v10.0h-10.0zM1181.5 823.4h10.0v10.0h-10.0zM1182.3 822.9h10.0v10.0h-10.0zM1183.2 822.3h10.0v10.0h-10.0zM1184.0 821.8h10.0v10.0h-10.0zM1184.8 821.3h10.0v10.0h-10.0zM1185.7 820.7h10.0v10.0h-10.0zM1186.5 820.2h10.0v10.0h-10.0zM1187.4 819.6h10.0v10.0h-10.0zM1188.2 819.1h10.0v10.0h-10.0zM1189.1 818.6h10.0v10.0h-10.0zM1189.9 818.1h10.0v10.0h-10.0zM1190.8 817.6h10.0v10.0h-10.0zM1191.6 817.1h10.0v10.0h-10.0zM1192.5 816.6h10.0v10.0h-10.0zM1193.4 816.1h10.0v10.0h-10.0zM1194.3 815.7h10.0v10.0h-10.0zM1195.2 815.3h10.0v10.0h-10.0zM1196.1 814.9h10.0v10.0h-10.0zM1197.1 814.5h10.0v10.0h-10.0zM1198.0 814.1h10.0v10.0h-10.0zM1198.9 813.7h10.0v10.0h-10.0zM1199.8 813.3h10.0v10.0h-10.0zM1200.8 813.0h10.0v10.0h-10.0zM1201.7 812.6h10.0v10.0h-10.0zM1202.6 812.2h10.0v10.0h-10.0zM1203.5 811.8h10.0v10.0h-10.0zM1204.4 811.3h10.0v10.0h-10.0zM1205.2 810.7h10.0v10.0h-10.0zM1205.9 810.0h10.0v10.0h-10.0zM1206.7 809.4h10.0v10.0h-10.0zM1207.6 809.1h10.0v10.0h-10.0zM1208.6 808.9h10.0v10.0h-10.0zM1209.6 808.7h10.0v10.0h-10.0zM1210.6 808.6h10.0v10.0h-10.0zM1211.6 808.5h10.0v10.0h-10.0zM1212.6 808.4h10.0v10.0h-10.0zM1213.6 808.2h10.0v10.0h-10.0zM1214.6 808.1h10.0v10.0h-10.0zM1215.6 808.0h10.0v10.0h-10.0zM1216.5 807.9h10.0v10.0h-10.0zM1217.5 807.8h10.0v10.0h-10.0zM1218.5 807.7h10.0v10.0h-10.0zM1219.5 807.5h10.0v10.0h-10.0zM1220.5 807.4h10.0v10.0h-10.0zM1221.5 807.3h10.0v10.0h-10.0zM1222.5 807.1h10.0v10.0h-10.0zM1223.5 807.0h10.0v10.0h-10.0zM1224.5 806.8h10.0v10.0h-10.0zM1225.5 806.6h10.0v10.0h-10.0zM1226.4 806.4h10.0v10.0h-10.0zM1227.4 806.2h10.0v10.0h-10.0zM1228.4 806.0h10.0v10.0h-10.0zM1229.4 805.9h10.0v10.0h-10.0zM1230.4 805.7h10.0v10.0h-10.0zM1231.3 805.5h10.0v10.0h-10.0zM1232.3 805.3h10.0v10.0h-10.0zM1233.3 805.1h10.0v10.0h-10.0zM1234.3 804.9h10.0v10.0h-10.0zM1235.3 804.7h10.0v10.0h-10.0zM1236.2 804.4h10.0v10.0h-10.0zM1237.2 804.2h10.0v10.0h-10.0zM1238.2 804.0h10.0v10.0h-10.0zM1239.2 803.8h10.0v10.0h-10.0zM1240.2 803.6h10.0v10.0h-10.0zM1241.1 803.4h10.0v10.0h-10.0zM1242.1 803.2h10.0v10.0h-10.0zM1243.1 803.0h10.0v10.0h-10.0zM1244.1 802.8h10.0v10.0h-10.0zM1245.0 802.6h10.0v10.0h-10.0zM1246.0 802.4h10.0v10.0h-10.0zM1247.0 802.2h10.0v10.0h-10.0zM1248.0 802.0h10.0v10.0h-10.0zM1249.0 801.8h10.0v10.0h-10.0zM1249.9 801.6h10.0v10.0h-10.0zM1250.9 801.3h10.0v10.0h-10.0zM1251.9 801.1h10.0v10.0h-10.0zM1252.9 800.9h10.0v10.0h-10.0zM1253.8 800.7h10.0v10.0h-10.0zM1254.8 800.5h10.0v10.0h-10.0zM1255.8 800.3h10.0v10.0h-10.0zM1256.8 800.1h10.0v10.0h-10.0zM1257.8 799.9h10.0v10.0h-10.0zM1258.7 799.6h10.0v10.0h-10.0zM1259.7 799.4h10.0v10.0h-10.0zM1260.7 799.2h10.0v10.0h-10.0zM1261.7 799.0h10.0v10.0h-10.0zM1262.6 798.8h10.0v10.0h-10.0zM1263.6 798.6h10.0v10.0h-10.0zM1264.6 798.4h10.0v10.0h-10.0zM1265.6 798.2h10.0v10.0h-10.0zM1266.6 798.0h10.0v10.0h-10.0zM1267.5 797.8h10.0v10.0h-10.0zM1268.5 797.6h10.0v10.0h-10.0zM1269.5 797.4h10.0v10.0h-10.0zM1270.5 797.2h10.0v10.0h-10.0zM1271.5 797.0h10.0v10.0h-10.0zM1272.4 796.8h10.0v10.0h-10.0zM1273.4 796.6h10.0v10.0h-10.0zM1274.4 796.4h10.0v10.0h-10.0zM1275.4 796.2h10.0v10.0h-10.0zM1276.4 796.1h10.0v10.0h-10.0zM1277.4 795.9h10.0v10.0h-10.0zM1278.3 795.7h10.0v10.0h-10.0zM1279.3 795.5h10.0v10.0h-10.0zM1280.3 795.3h10.0v10.0h-10.0zM1281.3 795.2h10.0v10.0h-10.0zM1282.3 795.0h10.0v10.0h-10.0zM1283.3 794.8h10.0v10.0h-10.0zM1284.2 794.6h10.0v10.0h-10.0zM1285.2 794.5h10.0v10.0h-10.0zM1286.2 794.3h10.0v10.0h-10.0zM1287.2 794.1h10.0v10.0h-10.0zM1288.2 793.9h10.0v10.0h-10.0zM1289.2 793.8h10.0v10.0h-10.0zM1290.2 793.6h10.0v10.0h-10.0zM1291.1 793.4h10.0v10.0h-10.0zM1292.1 793.2h10.0v10.0h-10.0zM1293.1 793.1h10.0v10.0h-10.0zM1294.1 792.9h10.0v10.0h-10.0zM1295.1 792.7h10.0v10.0h-10.0zM1296.1 792.5h10.0v10.0h-10.0zM1297.0 792.3h10.0v10.0h-10.0zM1298.0 792.2h10.0v10.0h-10.0zM1299.0 792.0h10.0v10.0h-10.0zM1300.0 791.8h10.0v10.0h-10.0zM1301.0 791.6h10.0v10.0h-10.0zM1302.0 791.4h10.0v10.0h-10.0zM1302.9 791.3h10.0v10.0h-10.0zM1303.9 791.1h10.0v10.0h-10.0zM1304.9 790.9h10.0v10.0h-10.0zM1305.9 790.7h10.0v10.0h-10.0zM1306.9 790.5h10.0v10.0h-10.0zM1307.9 790.4h10.0v10.0h-10.0zM1308.8 790.2h10.0v10.0h-10.0zM1309.8 790.0h10.0v10.0h-10.0zM1310.8 789.8h10.0v10.0h-10.0zM1311.8 789.6h10.0v10.0h-10.0zM1312.8 789.5h10.0v10.0h-10.0zM1313.8 789.3h10.0v10.0h-10.0zM1314.7 789.1h10.0v10.0h-10.0zM1315.7 788.9h10.0v10.0h-10.0zM1316.7 788.7h10.0v10.0h-10.0zM1317.7 788.5h10.0v10.0h-10.0zM1318.7 788.3h10.0v10.0h-10.0zM1319.6 788.1h10.0v10.0h-10.0zM1320.6 787.8h10.0v10.0h-10.0zM1321.6 787.6h10.0v10.0h-10.0zM1322.6 787.5h10.0v10.0h-10.0zM1323.6 787.3h10.0v10.0h-10.0zM1324.6 787.2h10.0v10.0h-10.0zM1325.5 787.0h10.0v10.0h-10.0zM1326.5 786.9h10.0v10.0h-10.0zM1327.5 786.8h10.0v10.0h-10.0zM1328.5 786.7h10.0v10.0h-10.0zM1329.5 786.5h10.0v10.0h-10.0zM1330.5 786.4h10.0v10.0h-10.0zM1331.5 786.3h10.0v10.0h-10.0zM1332.5 786.2h10.0v10.0h-10.0zM1333.5 786.1h10.0v10.0h-10.0zM1334.5 786.0h10.0v10.0h-10.0zM1335.5 785.9h10.0v10.0h-10.0zM1336.5 785.8h10.0v10.0h-10.0zM1337.5 785.7h10.0v10.0h-10.0zM1338.5 785.6h10.0v10.0h-10.0zM1339.5 785.5h10.0v10.0h-10.0zM1340.4 785.4h10.0v10.0h-10.0zM1341.4 785.2h10.0v10.0h-10.0zM1342.4 785.1h10.0v10.0h-10.0zM1343.4 785.0h10.0v10.0h-10.0zM1344.4 784.9h10.0v10.0h-10.0zM1345.4 784.8h10.0v10.0h-10.0zM1346.4 784.6h10.0v10.0h-10.0zM1347.4 784.5h10.0v10.0h-10.0zM1348.4 784.4h10.0v10.0h-10.0zM1349.4 784.2h10.0v10.0h-10.0zM1350.4 784.1h10.0v10.0h-10.0zM1351.4 783.9h10.0v10.0h-10.0zM1352.3 783.7h10.0v10.0h-10.0zM1353.3 783.6h10.0v10.0h-10.0zM1354.3 783.4h10.0v10.0h-10.0zM1355.3 783.2h10.0v10.0h-10.0zM1356.3 783.1h10.0v10.0h-10.0zM1357.3 782.9h10.0v10.0h-10.0zM1358.2 782.7h10.0v10.0h-10.0zM1359.2 782.5h10.0v10.0h-10.0zM1360.2 782.4h10.0v10.0h-10.0zM1361.2 782.2h10.0v10.0h-10.0zM1362.2 782.0h10.0v10.0h-10.0zM1363.2 781.8h10.0v10.0h-10.0zM1364.2 781.7h10.0v10.0h-10.0zM1365.1 781.5h10.0v10.0h-10.0zM1366.1 781.4h10.0v10.0h-10.0zM1367.1 781.2h10.0v10.0h-10.0zM1368.1 781.0h10.0v10.0h-10.0zM1369.1 780.9h10.0v10.0h-10.0zM1370.1 780.8h10.0v10.0h-10.0zM1371.1 780.6h10.0v10.0h-10.0zM1372.1 780.5h10.0v10.0h-10.0zM1373.1 780.4h10.0v10.0h-10.0zM1374.1 780.2h10.0v10.0h-10.0zM1375.0 780.1h10.0v10.0h-10.0zM1376.0 780.0h10.0v10.0h-10.0zM1377.0 779.9h10.0v10.0h-10.0zM1378.0 779.8h10.0v10.0h-10.0zM1379.0 779.7h10.0v10.0h-10.0zM1380.0 779.6h10.0v10.0h-10.0zM1381.0 779.5h10.0v10.0h-10.0zM1382.0 779.3h10.0v10.0h-10.0zM1383.0 779.2h10.0v10.0h-10.0zM1384.0 779.1h10.0v10.0h-10.0zM1385.0 779.0h10.0v10.0h-10.0zM1386.0 778.9h10.0v10.0h-10.0zM1387.0 778.8h10.0v10.0h-10.0zM1388.0 778.7h10.0v10.0h-10.0zM1389.0 778.6h10.0v10.0h-10.0zM1390.0 778.5h10.0v10.0h-10.0zM1391.0 778.4h10.0v10.0h-10.0zM1391.9 778.2h10.0v10.0h-10.0zM1392.9 778.1h10.0v10.0h-10.0zM1393.9 778.0h10.0v10.0h-10.0zM1394.9 777.9h10.0v10.0h-10.0zM1395.9 777.7h10.0v10.0h-10.0zM1396.9 777.6h10.0v10.0h-10.0zM1397.9 777.5h10.0v10.0h-10.0zM1398.9 777.4h10.0v10.0h-10.0zM1399.9 777.2h10.0v10.0h-10.0zM1400.9 777.1h10.0v10.0h-10.0zM1401.9 777.0h10.0v10.0h-10.0zM1402.9 776.8h10.0v10.0h-10.0zM1403.8 776.7h10.0v10.0h-10.0zM1404.8 776.6h10.0v10.0h-10.0zM1405.8 776.4h10.0v10.0h-10.0zM1406.8 776.3h10.0v10.0h-10.0zM1407.8 776.2h10.0v10.0h-10.0zM1408.8 776.0h10.0v10.0h-10.0zM1409.8 775.9h10.0v10.0h-10.0zM1410.8 775.8h10.0v10.0h-10.0zM1411.8 775.6h10.0v10.0h-10.0zM1412.8 775.5h10.0v10.0h-10.0zM1413.8 775.4h10.0v10.0h-10.0zM1414.8 775.3h10.0v10.0h-10.0zM1415.7 775.2h10.0v10.0h-10.0zM1416.7 775.1h10.0v10.0h-10.0zM1417.7 775.0h10.0v10.0h-10.0zM1418.7 774.9h10.0v10.0h-10.0zM1419.7 774.8h10.0v10.0h-10.0zM1420.7 774.7h10.0v10.0h-10.0zM1421.7 774.6h10.0v10.0h-10.0zM1422.7 774.5h10.0v10.0h-10.0zM1423.7 774.4h10.0v10.0h-10.0zM1424.7 774.3h10.0v10.0h-10.0zM1425.7 774.2h10.0v10.0h-10.0zM1426.7 774.1h10.0v10.0h-10.0zM1427.7 774.0h10.0v10.0h-10.0zM1428.7 773.9h10.0v10.0h-10.0zM1429.7 773.8h10.0v10.0h-10.0zM1430.7 773.7h10.0v10.0h-10.0zM1431.7 773.6h10.0v10.0h-10.0zM1432.7 773.5h10.0v10.0h-10.0zM1433.7 773.4h10.0v10.0h-10.0zM1434.7 773.3h10.0v10.0h-10.0zM1435.7 773.2h10.0v10.0h-10.0zM1436.6 773.1h10.0v10.0h-10.0zM1437.6 773.0h10.0v10.0h-10.0zM1438.6 772.9h10.0v10.0h-10.0zM1439.6 772.9h10.0v10.0h-10.0zM1440.6 772.8h10.0v10.0h-10.0zM1441.6 772.7h10.0v10.0h-10.0zM1442.6 772.6h10.0v10.0h-10.0zM1443.6 772.5h10.0v10.0h-10.0zM1444.6 772.4h10.0v10.0h-10.0zM1445.6 772.3h10.0v10.0h-10.0zM1446.6 772.2h10.0v10.0h-10.0zM1447.6 772.1h10.0v10.0h-10.0zM1448.6 772.0h10.0v10.0h-10.0zM1449.6 771.9h10.0v10.0h-10.0zM1450.6 771.8h10.0v10.0h-10.0zM1451.6 771.7h10.0v10.0h-10.0zM1452.6 771.6h10.0v10.0h-10.0zM1453.6 771.5h10.0v10.0h-10.0zM1454.6 771.4h10.0v10.0h-10.0zM1455.6 771.3h10.0v10.0h-10.0zM1456.6 771.2h10.0v10.0h-10.0zM1457.5 771.1h10.0v10.0h-10.0zM1458.5 771.0h10.0v10.0h-10.0zM1459.5 770.9h10.0v10.0h-10.0zM1460.5 770.8h10.0v10.0h-10.0zM1461.5 770.7h10.0v10.0h-10.0zM1462.5 770.5h10.0v10.0h-10.0zM1463.5 770.4h10.0v10.0h-10.0zM1464.5 770.3h10.0v10.0h-10.0zM1465.5 770.2h10.0v10.0h-10.0zM1466.5 770.1h10.0v10.0h-10.0zM1467.5 770.0h10.0v10.0h-10.0zM1468.5 769.9h10.0v10.0h-10.0zM1469.5 769.7h10.0v10.0h-10.0zM1470.5 769.6h10.0v10.0h-10.0zM1471.5 769.5h10.0v10.0h-10.0zM1472.5 769.4h10.0v10.0h-10.0zM1473.4 769.3h10.0v10.0h-10.0zM1474.4 769.2h10.0v10.0h-10.0zM1475.4 769.1h10.0v10.0h-10.0zM1476.4 769.0h10.0v10.0h-10.0zM1477.4 768.9h10.0v10.0h-10.0zM1478.4 768.8h10.0v10.0h-10.0zM1479.4 768.7h10.0v10.0h-10.0zM1480.4 768.6h10.0v10.0h-10.0zM1481.4 768.5h10.0v10.0h-10.0zM1482.4 768.4h10.0v10.0h-10.0zM1483.4 768.3h10.0v10.0h-10.0zM1484.4 768.2h10.0v10.0h-10.0zM1485.4 768.1h10.0v10.0h-10.0zM1486.4 768.1h10.0v10.0h-10.0zM1487.4 768.0h10.0v10.0h-10.0zM1488.4 767.9h10.0v10.0h-10.0zM1489.4 767.8h10.0v10.0h-10.0zM1490.4 767.8h10.0v10.0h-10.0zM1491.4 767.7h10.0v10.0h-10.0zM1492.4 767.6h10.0v10.0h-10.0zM1493.4 767.5h10.0v10.0h-10.0zM1494.4 767.5h10.0v10.0h-10.0zM1495.4 767.4h10.0v10.0h-10.0zM1496.4 767.3h10.0v10.0h-10.0zM1497.4 767.2h10.0v10.0h-10.0zM1498.4 767.2h10.0v10.0h-10.0zM1499.3 767.1h10.0v10.0h-10.0zM1500.3 767.0h10.0v10.0h-10.0zM1501.3 766.9h10.0v10.0h-10.0zM1502.3 766.8h10.0v10.0h-10.0zM1503.3 766.7h10.0v10.0h-10.0zM1504.3 766.6h10.0v10.0h-10.0zM1505.3 766.5h10.0v10.0h-10.0zM1506.3 766.4h10.0v10.0h-10.0zM1507.3 766.3h10.0v10.0h-10.0zM1508.3 766.2h10.0v10.0h-10.0zM1509.3 766.1h10.0v10.0h-10.0zM1510.3 766.0h10.0v10.0h-10.0zM1511.3 765.9h10.0v10.0h-10.0zM1512.3 765.8h10.0v10.0h-10.0zM1513.3 765.7h10.0v10.0h-10.0zM1514.3 765.6h10.0v10.0h-10.0zM1515.3 765.5h10.0v10.0h-10.0zM1516.3 765.4h10.0v10.0h-10.0zM1517.3 765.3h10.0v10.0h-10.0zM1518.3 765.2h10.0v10.0h-10.0zM1519.2 765.1h10.0v10.0h-10.0zM1520.2 765.0h10.0v10.0h-10.0zM1521.2 764.9h10.0v10.0h-10.0zM1522.2 764.8h10.0v10.0h-10.0zM1523.2 764.7h10.0v10.0h-10.0zM1524.2 764.6h10.0v10.0h-10.0zM1525.2 764.5h10.0v10.0h-10.0zM1526.2 764.4h10.0v10.0h-10.0zM1527.2 764.3h10.0v10.0h-10.0zM1528.2 764.2h10.0v10.0h-10.0zM1529.2 764.1h10.0v10.0h-10.0zM1530.2 764.1h10.0v10.0h-10.0zM1531.2 764.0h10.0v10.0h-10.0zM1532.2 763.9h10.0v10.0h-10.0zM1533.2 763.8h10.0v10.0h-10.0zM1534.2 763.7h10.0v10.0h-10.0zM1535.2 763.7h10.0v10.0h-10.0zM1536.2 763.6h10.0v10.0h-10.0zM1537.2 763.5h10.0v10.0h-10.0zM1538.2 763.4h10.0v10.0h-10.0zM1539.2 763.4h10.0v10.0h-10.0zM1540.2 763.3h10.0v10.0h-10.0zM1541.2 763.2h10.0v10.0h-10.0zM1542.2 763.1h10.0v10.0h-10.0zM1543.2 763.1h10.0v10.0h-10.0zM1544.0 763.0h10.0v10.0h-10.0z" fill="#000"/>
<g fill="#d70d10">
<circle cx="197.0" cy="1025.3" r="5.4"/>
<circle cx="202.0" cy="1025.3" r="5.4"/>
<circle cx="215.0" cy="1024.9" r="5.4"/>
<circle cx="221.5" cy="1024.6" r="5.4"/>
<circle cx="234.0" cy="1024.4" r="5.4"/>
<circle cx="241.0" cy="1022.6" r="5.4"/>
<circle cx="248.0" cy="1020.6" r="5.4"/>
<circle cx="267.5" cy="1019.0" r="5.4"/>
<circle cx="274.0" cy="1017.0" r="5.4"/>
<circle cx="285.0" cy="1013.0" r="5.4"/>
<circle cx="291.0" cy="1008.5" r="5.4"/>
<circle cx="299.0" cy="1002.5" r="5.4"/>
<circle cx="305.0" cy="997.5" r="5.4"/>
<circle cx="311.0" cy="992.2" r="5.4"/>
<circle cx="317.6" cy="982.4" r="5.4"/>
<circle cx="323.5" cy="975.0" r="5.4"/>
<circle cx="329.3" cy="968.0" r="5.4"/>
<circle cx="335.6" cy="958.6" r="5.4"/>
<circle cx="341.0" cy="952.0" r="5.4"/>
<circle cx="346.3" cy="945.2" r="5.4"/>
<circle cx="354.4" cy="932.2" r="5.4"/>
<circle cx="359.0" cy="925.5" r="5.4"/>
<circle cx="972.8" cy="1034.9" r="5.4"/>
<circle cx="977.5" cy="1034.2" r="5.4"/>
<circle cx="982.9" cy="1032.9" r="5.4"/>
<circle cx="987.6" cy="1029.5" r="5.4"/>
<circle cx="991.0" cy="1024.8" r="5.4"/>
<circle cx="993.5" cy="1021.5" r="5.4"/>
<circle cx="995.2" cy="1016.9" r="5.4"/>
<circle cx="998.2" cy="1009.4" r="5.4"/>
<circle cx="1004.2" cy="985.5" r="5.4"/>
<circle cx="1007.9" cy="969.1" r="5.4"/>
<circle cx="1010.9" cy="963.1" r="5.4"/>
<circle cx="1013.9" cy="957.1" r="5.4"/>
<circle cx="1018.4" cy="940.7" r="5.4"/>
<circle cx="1022.1" cy="933.2" r="5.4"/>
</g>
<path d="M363.8 918.7 L364.7 918.3 L365.6 917.8 L366.5 917.4 L367.4 916.9 L368.3 916.5 L369.2 916.0 L370.1 915.6 L371.0 915.1 L371.8 914.7 L372.7 914.2 L373.6 913.7 L374.5 913.3 L375.4 912.8 L376.2 912.3 L377.1 911.8 L378.0 911.3 L378.8 910.8 L379.7 910.2 L380.5 909.7 L381.4 909.2 L382.3 908.7 L383.1 908.2 L384.0 907.7 L384.8 907.1 L385.7 906.6 L386.5 906.1 L387.4 905.6 L388.2 905.1 L389.1 904.5 L389.9 904.0 L390.8 903.5 L391.6 902.9 L392.5 902.4 L393.3 901.9 L394.2 901.4 L395.0 900.8 L395.9 900.3 L396.7 899.8 L397.6 899.3 L398.4 898.8 L399.3 898.2 L400.2 897.7 L401.0 897.2 L401.9 896.7 L402.8 896.2 L403.6 895.8 L404.5 895.3 L405.4 894.8 L406.3 894.3 L407.1 893.8 L408.0 893.4 L408.9 892.9 L409.8 892.4 L410.7 892.0 L411.6 891.5 L412.5 891.1 L413.4 890.6 L414.3 890.2 L415.2 889.8 L416.1 889.3 L417.0 888.9 L417.9 888.4 L418.8 888.0 L419.7 887.6 L420.6 887.2 L421.5 886.8 L422.4 886.3 L423.3 885.9 L424.2 885.5 L425.2 885.1 L426.1 884.8 L427.0 884.4 L427.9 884.0 L428.9 883.6 L429.8 883.3 L430.7 882.9 L431.7 882.6 L432.6 882.2 L433.5 881.9 L434.5 881.5 L435.4 881.2 L436.4 880.9 L437.3 880.5 L438.3 880.2 L439.2 879.9 L440.2 879.6 L441.1 879.3 L442.1 879.0 L443.0 878.7 L444.0 878.4 L444.9 878.2 L445.9 877.9 L446.9 877.6 L447.8 877.4 L448.8 877.1 L449.8 876.9 L450.7 876.6 L451.7 876.4 L452.7 876.1 L453.7 875.9 L454.6 875.6 L455.6 875.4 L456.6 875.1 L457.5 874.9 L458.5 874.6 L459.5 874.3 L460.4 874.1 L461.4 873.8 L462.4 873.6 L463.3 873.3 L464.3 873.1 L465.3 872.8 L466.2 872.6 L467.2 872.3 L468.2 872.1 L469.1 871.8 L470.1 871.6 L471.1 871.3 L472.0 871.1 L473.0 870.8 L473.9 870.5 L474.9 870.2 L475.9 869.9 L476.8 869.7 L477.8 869.5 L478.8 869.3 L479.8 869.0 L480.7 868.9 L481.7 868.7 L482.7 868.5 L483.7 868.3 L484.7 868.1 L485.7 868.0 L486.7 867.8 L487.6 867.6 L488.6 867.4 L489.6 867.3 L490.6 867.1 L491.6 866.9 L492.6 866.8 L493.6 866.6 L494.5 866.4 L495.5 866.3 L496.5 866.1 L497.5 866.0 L498.5 865.8 L499.5 865.6 L500.5 865.4 L501.4 865.3 L502.4 865.1 L503.4 864.9 L504.4 864.7 L505.4 864.6 L506.4 864.4 L507.3 864.2 L508.3 864.0 L509.3 863.8 L510.3 863.6 L511.3 863.4 L512.3 863.3 L513.2 863.1 L514.2 862.9 L515.2 862.7 L516.2 862.5 L517.2 862.3 L518.2 862.2 L519.1 862.0 L520.1 861.8 L521.1 861.6 L522.1 861.5 L523.1 861.3 L524.1 861.1 L525.0 861.0 L526.0 860.8 L527.0 860.6 L528.0 860.5 L529.0 860.3 L530.0 860.2 L531.0 860.0 L532.0 859.9 L533.0 859.8 L533.9 859.6 L534.9 859.5 L535.9 859.3 L536.9 859.2 L537.9 859.1 L538.9 858.9 L539.9 858.8 L540.9 858.7 L541.9 858.5 L542.9 858.4 L543.9 858.3 L544.8 858.1 L545.8 858.0 L546.8 857.9 L547.8 857.7 L548.8 857.6 L549.8 857.5 L550.8 857.3 L551.8 857.2 L552.8 857.1 L553.8 857.0 L554.8 856.8 L555.8 856.7 L556.7 856.6 L557.7 856.5 L558.7 856.3 L559.7 856.2 L560.7 856.1 L561.7 856.0 L562.7 855.8 L563.7 855.7 L564.7 855.6 L565.7 855.5 L566.7 855.4 L567.7 855.2 L568.7 855.1 L569.7 855.0 L570.6 854.9 L571.6 854.8 L572.6 854.7 L573.6 854.6 L574.6 854.4 L575.6 854.4 L576.6 854.3 L577.6 854.2 L578.6 854.1 L579.6 854.0 L580.6 854.0 L581.6 853.9 L582.6 853.8 L583.6 853.7 L584.6 853.7 L585.6 853.6 L586.6 853.5 L587.6 853.5 L588.6 853.4 L589.6 853.3 L590.6 853.3 L591.6 853.2 L592.6 853.1 L593.6 853.1 L594.6 853.0 L595.6 852.9 L596.6 852.8 L597.6 852.8 L598.6 852.7 L599.6 852.6 L600.6 852.5 L601.5 852.5 L602.5 852.4 L603.5 852.3 L604.5 852.2 L605.5 852.1 L606.5 852.0 L607.5 851.9 L608.5 851.9 L609.5 851.8 L610.5 851.7 L611.5 851.6 L612.5 851.5 L613.5 851.4 L614.5 851.3 L615.5 851.2 L616.5 851.1 L617.5 851.0 L618.5 850.9 L619.5 850.8 L620.5 850.7 L621.5 850.6 L622.5 850.5 L623.5 850.4 L624.4 850.3 L625.4 850.2 L626.4 850.2 L627.4 850.1 L628.4 850.0 L629.4 849.9 L630.4 849.8 L631.4 849.8 L632.4 849.7 L633.4 849.6 L634.4 849.5 L635.4 849.5 L636.4 849.4 L637.4 849.3 L638.4 849.2 L639.4 849.2 L640.4 849.1 L641.4 849.0 L642.4 848.9 L643.4 848.9 L644.4 848.8 L645.4 848.7 L646.4 848.7 L647.4 848.6 L648.4 848.5 L649.4 848.5 L650.4 848.4 L651.4 848.3 L652.4 848.3 L653.4 848.2 L654.4 848.2 L655.4 848.1 L656.4 848.1 L657.4 848.0 L658.4 848.0 L659.4 847.9 L660.4 847.9 L661.4 847.8 L662.4 847.8 L663.4 847.7 L664.4 847.6 L665.4 847.6 L666.4 847.5 L667.3 847.5 L668.3 847.4 L669.3 847.3 L670.3 847.3 L671.3 847.2 L672.3 847.2 L673.3 847.1 L674.3 847.1 L675.3 847.0 L676.3 846.9 L677.3 846.9 L678.3 846.8 L679.3 846.8 L680.3 846.7 L681.3 846.6 L682.3 846.6 L683.3 846.5 L684.3 846.5 L685.3 846.4 L686.3 846.3 L687.3 846.3 L688.3 846.2 L689.3 846.1 L690.3 846.1 L691.3 846.0 L692.3 846.0 L693.3 845.9 L694.3 845.8 L695.3 845.8 L696.3 845.7 L697.3 845.7 L698.3 845.6 L699.3 845.6 L700.3 845.5 L701.3 845.4 L702.3 845.4 L703.3 845.3 L704.3 845.3 L705.3 845.2 L706.3 845.2 L707.3 845.1 L708.3 845.1 L709.3 845.0 L710.3 845.0 L711.3 844.9 L712.3 844.9 L713.3 844.8 L714.3 844.8 L715.3 844.7 L716.3 844.7 L717.3 844.6 L718.3 844.6 L719.3 844.6 L720.3 844.5 L721.3 844.5 L722.3 844.4 L723.3 844.4 L724.3 844.3 L725.3 844.3 L726.3 844.3 L727.3 844.2 L728.3 844.2 L729.3 844.2 L730.3 844.1 L731.3 844.1 L732.3 844.1 L733.3 844.0 L734.3 844.0" fill="none" stroke="#d70d10" stroke-width="10.0" stroke-linecap="round" stroke-linejoin="round"/>
<path d="M1024.4 930.2 L1024.6 929.2 L1024.8 928.3 L1025.1 927.3 L1025.3 926.3 L1025.5 925.3 L1025.7 924.4 L1026.0 923.4 L1026.3 922.4 L1026.6 921.5 L1027.0 920.6 L1027.5 919.7 L1028.0 918.8 L1028.5 918.0 L1029.1 917.2 L1029.7 916.4 L1030.3 915.6 L1031.0 914.8 L1031.7 914.1 L1032.3 913.3 L1033.0 912.6 L1033.7 911.9 L1034.4 911.2 L1035.1 910.5 L1035.9 909.8 L1036.7 909.3 L1037.6 908.9 L1038.5 908.4 L1039.3 907.8 L1040.1 907.2 L1040.9 906.6 L1041.7 905.9 L1042.4 905.3 L1043.2 904.6 L1043.9 903.9 L1044.6 903.3 L1045.4 902.6 L1046.1 901.9 L1046.9 901.3 L1047.6 900.6 L1048.4 900.0 L1049.2 899.3 L1050.0 898.7 L1050.8 898.1 L1051.6 897.5 L1052.4 897.0 L1053.2 896.4 L1054.1 895.8 L1054.9 895.3 L1055.8 894.8 L1056.6 894.3 L1057.5 893.8 L1058.4 893.3 L1059.3 892.9 L1060.2 892.4 L1061.1 892.0 L1062.0 891.6 L1062.9 891.2 L1063.8 890.8 L1064.8 890.5 L1065.7 890.2 L1066.7 889.8 L1067.6 889.5 L1068.6 889.2 L1069.5 889.0 L1070.5 888.7 L1071.4 888.4 L1072.4 888.1 L1073.4 887.8 L1074.3 887.6 L1075.3 887.3 L1076.2 887.0 L1077.2 886.7 L1078.1 886.4 L1079.1 886.0 L1080.0 885.7 L1081.0 885.4 L1081.9 885.1 L1082.9 884.8 L1083.8 884.4 L1084.8 884.1 L1085.7 883.8 L1086.7 883.5 L1087.6 883.1 L1088.6 882.8 L1089.5 882.5 L1090.4 882.1 L1091.4 881.8 L1092.3 881.5 L1093.3 881.2 L1094.2 880.8 L1095.1 880.5 L1096.1 880.1 L1097.0 879.7 L1097.9 879.4 L1098.9 879.0 L1099.8 878.6 L1100.7 878.3 L1101.7 877.9 L1102.6 877.6 L1103.6 877.3 L1104.5 877.0 L1105.5 876.7 L1106.4 876.4 L1107.4 876.2 L1108.4 876.0 L1109.4 875.8 L1110.4 875.6 L1111.3 875.5 L1112.3 875.4 L1113.3 875.3 L1114.3 875.2 L1115.3 875.1 L1116.3 875.0 L1117.3 875.0 L1118.3 874.9 L1119.3 874.8 L1120.3 874.8 L1121.3 874.7 L1122.3 874.6 L1123.3 874.5 L1124.3 874.4 L1125.3 874.3 L1126.3 874.3 L1127.3 874.2 L1128.3 874.1 L1129.3 874.0 L1130.3 874.0 L1131.3 873.9 L1132.3 873.8 L1133.3 873.8 L1134.3 873.7M1145.2 872.9 L1146.2 872.8 L1147.2 872.7 L1148.2 872.6 L1149.2 872.5 L1150.2 872.4 L1151.2 872.3 L1152.2 872.3 L1153.2 872.2 L1154.2 872.1 L1155.2 872.0 L1156.2 871.8 L1157.2 871.7 L1158.2 871.6 L1159.2 871.5 L1160.2 871.4M1170.1 869.9 L1171.0 869.7 L1172.0 869.5 L1173.0 869.4 L1174.0 869.2M1184.9 867.6 L1185.9 867.5 L1186.9 867.3 L1187.9 867.2 L1188.8 867.0 L1189.8 866.9 L1190.8 866.7 L1191.8 866.6 L1192.8 866.4 L1193.8 866.3 L1194.8 866.2 L1195.8 866.0 L1196.8 865.9 L1197.7 865.7 L1198.7 865.5 L1199.7 865.4 L1200.7 865.2 L1201.7 865.1 L1202.7 864.9 L1203.7 864.8 L1204.7 864.6 L1205.6 864.4M1215.5 862.7 L1216.5 862.5 L1217.5 862.3 L1218.4 862.2 L1219.4 862.0 L1220.4 861.9 L1221.4 861.8 L1222.4 861.7 L1223.4 861.6 L1224.4 861.5 L1225.4 861.4 L1226.4 861.3 L1227.4 861.2 L1228.4 861.2 L1229.4 861.1 L1230.4 861.0 L1231.4 860.9 L1232.4 860.8 L1233.4 860.7 L1234.4 860.6 L1235.4 860.5 L1236.3 860.3 L1237.3 860.2 L1238.3 860.1 L1239.3 860.0 L1240.3 859.9M1251.3 858.8 L1252.3 858.7 L1253.3 858.6 L1254.3 858.5 L1255.2 858.4 L1256.2 858.3 L1257.2 858.2 L1258.2 858.1M1269.2 857.1 L1270.2 857.0 L1271.2 856.9 L1272.2 856.8 L1273.2 856.7 L1274.2 856.6M1285.1 855.3 L1286.1 855.2 L1287.1 855.0 L1288.1 854.9 L1289.1 854.8 L1290.0 854.7 L1291.0 854.6 L1292.0 854.4 L1293.0 854.3M1303.0 853.1 L1304.0 853.0 L1304.9 852.9 L1305.9 852.8 L1306.9 852.7 L1307.9 852.6 L1308.9 852.5 L1309.9 852.4 L1310.9 852.2 L1311.9 852.1 L1312.9 852.0 L1313.9 851.9 L1314.9 851.8 L1315.9 851.7 L1316.9 851.6 L1317.9 851.4 L1318.9 851.3M1329.7 849.6 L1330.7 849.5 L1331.7 849.4 L1332.7 849.3 L1333.7 849.3 L1334.7 849.2 L1335.7 849.1 L1336.7 849.0M1346.7 848.3 L1347.7 848.2 L1348.7 848.1 L1349.7 848.0 L1350.6 848.0 L1351.6 847.9 L1352.6 847.8 L1353.6 847.7 L1354.6 847.6 L1355.6 847.5M1365.6 846.6 L1366.6 846.5 L1367.6 846.4 L1368.6 846.3 L1369.6 846.2 L1370.6 846.1 L1371.6 846.0 L1372.5 845.9 L1373.5 845.7 L1374.5 845.6M1384.5 844.4 L1385.4 844.2 L1386.4 844.1 L1387.4 844.0 L1388.4 843.8 L1389.4 843.7 L1390.4 843.6 L1391.4 843.4 L1392.4 843.3M1402.3 842.1 L1403.3 842.0 L1404.3 841.9 L1405.3 841.8 L1406.3 841.7 L1407.3 841.6M1417.2 840.5 L1418.2 840.4 L1419.2 840.3 L1420.2 840.2 L1421.2 840.2 L1422.2 840.1 L1423.2 840.0 L1424.2 839.9 L1425.2 839.8 L1426.2 839.7M1436.2 838.8 L1437.1 838.7 L1438.1 838.6 L1439.1 838.6 L1440.1 838.5 L1441.1 838.4 L1442.1 838.3 L1443.1 838.3 L1444.1 838.2M1454.1 837.6 L1455.1 837.6 L1456.1 837.5 L1457.1 837.5 L1458.1 837.4 L1459.1 837.3 L1460.1 837.3 L1461.1 837.2 L1462.1 837.1M1472.1 836.3 L1473.1 836.2 L1474.1 836.1 L1475.1 836.0 L1476.0 836.0 L1477.0 835.9 L1478.0 835.8 L1479.0 835.7 L1480.0 835.6 L1481.0 835.5 L1482.0 835.4 L1483.0 835.4 L1484.0 835.3 L1485.0 835.2 L1486.0 835.1 L1487.0 835.1 L1488.0 835.0 L1489.0 834.9 L1490.0 834.8 L1491.0 834.8 L1492.0 834.7 L1493.0 834.6 L1494.0 834.6 L1495.0 834.5 L1496.0 834.4 L1497.0 834.4 L1498.0 834.3 L1499.0 834.2 L1500.0 834.2 L1501.0 834.1 L1502.0 834.1 L1503.0 834.0 L1504.0 833.9 L1505.0 833.9 L1506.0 833.8 L1507.0 833.7 L1508.0 833.7 L1509.0 833.6 L1510.0 833.6 L1511.0 833.5 L1512.0 833.4 L1513.0 833.4 L1514.0 833.3 L1515.0 833.3 L1516.0 833.2 L1516.9 833.1 L1517.9 833.1 L1518.9 833.0 L1519.9 833.0 L1520.9 832.9 L1521.9 832.9 L1522.9 832.8 L1523.9 832.7 L1524.9 832.7 L1525.9 832.6 L1526.9 832.6 L1527.9 832.5 L1528.9 832.5 L1529.9 832.4 L1530.9 832.4 L1531.9 832.3 L1532.9 832.3 L1533.9 832.2 L1534.9 832.2 L1535.9 832.1 L1536.9 832.1 L1537.9 832.0 L1538.9 832.0 L1539.9 831.9 L1540.9 831.9 L1541.9 831.8 L1542.9 831.8 L1543.9 831.7 L1544.9 831.7 L1545.9 831.6 L1546.9 831.6 L1547.9 831.5 L1548.5 831.5" fill="none" stroke="#d70d10" stroke-width="10.0" stroke-linecap="round" stroke-linejoin="round"/>
<defs>
<filter id="soft" x="-5%" y="-5%" width="110%" height="110%"><feGaussianBlur stdDeviation="0.6"/></filter>
<filter id="soft2" x="-20%" y="-20%" width="140%" height="140%"><feGaussianBlur stdDeviation="1.6"/></filter>
<linearGradient id="wallH" x1="0" y1="0" x2="1" y2="0"><stop offset="0" stop-color="#d2d2d0"/><stop offset="0.5" stop-color="#dcdcda"/><stop offset="1" stop-color="#e2e2e0"/></linearGradient>
<linearGradient id="wallV" x1="0" y1="0" x2="0" y2="1"><stop offset="0" stop-color="#fff" stop-opacity="0"/><stop offset="0.7" stop-color="#fff" stop-opacity="0.12"/><stop offset="1" stop-color="#fff" stop-opacity="0.45"/></linearGradient>
<linearGradient id="table1" x1="0" y1="0" x2="0" y2="1"><stop offset="0" stop-color="#b8b8b2"/><stop offset="0.2" stop-color="#9a9a93"/><stop offset="0.6" stop-color="#85857c"/><stop offset="1" stop-color="#6c6c63"/></linearGradient>
<linearGradient id="table3" x1="0" y1="0" x2="0" y2="1"><stop offset="0" stop-color="#8e8e88"/><stop offset="0.25" stop-color="#999992"/><stop offset="1" stop-color="#9e9e94"/></linearGradient>
<linearGradient id="table2" x1="0" y1="0" x2="0" y2="1"><stop offset="0" stop-color="#b6b6b0"/><stop offset="0.5" stop-color="#9a9a93"/><stop offset="1" stop-color="#83837b"/></linearGradient>
<linearGradient id="tableH" x1="0" y1="0" x2="1" y2="0"><stop offset="0" stop-color="#000" stop-opacity="0.06"/><stop offset="0.5" stop-color="#000" stop-opacity="0"/><stop offset="1" stop-color="#fff" stop-opacity="0.06"/></linearGradient>
<linearGradient id="glassV" x1="0" y1="0" x2="1" y2="0"><stop offset="0" stop-color="#555" stop-opacity="0.75"/><stop offset="0.1" stop-color="#fff" stop-opacity="0.2"/><stop offset="0.5" stop-color="#fff" stop-opacity="0.05"/><stop offset="0.9" stop-color="#fff" stop-opacity="0.2"/><stop offset="1" stop-color="#555" stop-opacity="0.75"/></linearGradient>
<linearGradient id="gelG" x1="0" y1="0" x2="1" y2="0"><stop offset="0" stop-color="#eceee2"/><stop offset="0.5" stop-color="#f6f7ee"/><stop offset="1" stop-color="#e8eadc"/></linearGradient>
<linearGradient id="gelT" x1="0" y1="0" x2="1" y2="0"><stop offset="0" stop-color="#e4e6d4"/><stop offset="0.5" stop-color="#eef0e2"/><stop offset="1" stop-color="#dee1cc"/></linearGradient>
<linearGradient id="capG" x1="0" y1="0" x2="1" y2="0"><stop offset="0" stop-color="#1a1a1a"/><stop offset="0.5" stop-color="#262626"/><stop offset="1" stop-color="#141414"/></linearGradient>
<linearGradient id="reflG" x1="0" y1="0" x2="0" y2="1"><stop offset="0" stop-color="#2a2a2a"/><stop offset="1" stop-color="#4a4a48"/></linearGradient>
<clipPath id="cp1"><rect x="587" y="100" width="148" height="106"/></clipPath>
<clipPath id="cp2"><rect x="307" y="262" width="149" height="106"/></clipPath>
<clipPath id="cp3"><rect x="1289" y="173" width="147" height="105"/></clipPath>
<clipPath id="cp4"><rect x="1031" y="375" width="149" height="105"/></clipPath>
</defs>
<g clip-path="url(#cp1)"><g filter="url(#soft)">
<rect x="584" y="97" width="154" height="55.80000000000001" fill="url(#wallH)"/>
<rect x="584" y="97" width="154" height="55.80000000000001" fill="url(#wallV)"/>
<rect x="584" y="152.8" width="154" height="56.19999999999999" fill="url(#table1)"/>
<rect x="584" y="152.8" width="154" height="56.19999999999999" fill="url(#tableH)"/>
<rect x="648.5" y="153" width="29.5" height="44" fill="#b4b4ae" opacity="0.55"/>
<path d="M648.2,180 Q657,176.5 666,171.7 Q671,167.4 677.5,166.2 L677.5,194 Q677.5,197.8 674,197.8 L652,197.8 Q648.2,197.8 648.2,194 Z" fill="url(#gelG)"/>
<rect x="648" y="127" width="30.5" height="71" rx="3" fill="url(#glassV)"/>
<rect x="650" y="198" width="27" height="9" fill="#a6a69a" opacity="0.85"/>
<path d="M647,110 Q647,106 651,106 L675,106 Q679,106 679,110 L679,128 L647,128 Z" fill="url(#capG)"/>
<rect x="647.5" y="126.5" width="31" height="2" fill="#444"/>
</g></g>
<g clip-path="url(#cp2)"><g filter="url(#soft)">
<rect x="304" y="259" width="155" height="55.30000000000001" fill="url(#wallH)"/>
<rect x="304" y="259" width="155" height="55.30000000000001" fill="url(#wallV)"/>
<rect x="304" y="314.3" width="155" height="56.69999999999999" fill="url(#table2)"/>
<rect x="304" y="314.3" width="155" height="56.69999999999999" fill="url(#tableH)"/>
<path d="M363,284 L450.5,311 Q455,318 451,326 L439,344 L352,317 Z" fill="#d4d4d0"/>
<path d="M354,309 L446,333 L439,344 L352,317 Z" fill="#a9a9a4"/>
<path d="M360,305 L400,316" stroke="#777" stroke-width="1.2" fill="none" opacity="0.7"/>
<path d="M392,368 L437,344 L450,347 L456,368 Z" fill="#7c7a66" opacity="0.85"/>
<path d="M399,329 L424,311 L450.5,311 Q455,318 451,326 L438,344 L404,336 Z" fill="url(#gelT)"/>
<path d="M363,284 L450.5,311" stroke="#9a9a96" stroke-width="1" fill="none"/>
<path d="M352,317 L439,344" stroke="#6a6a66" stroke-width="1" fill="none"/>
<rect x="317" y="344" width="40.5" height="26" fill="url(#reflG)"/>
<path d="M315.3,319 Q315.3,316.7 320,316.7 L352,316.7 Q356.8,316.7 356.8,319 L356.8,344 L315.3,344 Z" fill="#1d1d1d"/>
<path d="M315.8,319.5 Q336,314.5 356.3,319.5" stroke="#3a3a3a" stroke-width="1.2" fill="none"/>
<path d="M351,313 L361.7,283.8 L365,285 L355,316 Z" fill="#6e6e6a"/>
<path d="M332.1,275.2 Q329,277 327.2,281.4 L324.3,294.5 L325.1,309.3 Q330,313 337.9,315.9 L349.4,317.6 L351.1,313.5 L361.7,283.8 L360.9,280.6 L348.6,277.3 Z" fill="#1c1c1c"/>
</g></g>
<g clip-path="url(#cp3)"><g filter="url(#soft)">
<rect x="1286" y="170" width="153" height="77.69999999999999" fill="url(#wallH)"/>
<rect x="1286" y="170" width="153" height="77.69999999999999" fill="url(#wallV)"/>
<rect x="1286" y="247.7" width="153" height="33.30000000000001" fill="url(#table3)"/>
<rect x="1286" y="247.7" width="153" height="33.30000000000001" fill="url(#tableH)"/>
<rect x="1350.5" y="180" width="22" height="24" rx="2" fill="#deded8"/>
<rect x="1350" y="183.2" width="23" height="2.2" rx="1" fill="#c2c0b4"/>
<rect x="1350" y="188.7" width="23" height="2.2" rx="1" fill="#c2c0b4"/>
<rect x="1350" y="194.2" width="23" height="2.2" rx="1" fill="#c2c0b4"/>
<rect x="1350.5" y="180" width="22" height="24" rx="2" fill="url(#glassV)" opacity="0.7"/>
<rect x="1348" y="203" width="28" height="69" rx="3" fill="#dcdcd6"/>
<rect x="1348" y="247.7" width="28" height="24" fill="#b4b4ac"/>
<path d="M1348,256.5 Q1355,253.5 1362,250.5 L1376,244.4 L1376,268 Q1376,272 1372,272 L1352,272 Q1348,272 1348,268 Z" fill="url(#gelG)"/>
<rect x="1348" y="203" width="28" height="69" rx="3" fill="url(#glassV)" opacity="0.7"/>
<rect x="1350" y="272" width="25" height="7" fill="#b8b8a4" opacity="0.9"/>
</g></g>
<g clip-path="url(#cp4)"><g filter="url(#soft)">
<rect x="1028" y="372" width="155" height="57.19999999999999" fill="url(#wallH)"/>
<rect x="1028" y="372" width="155" height="57.19999999999999" fill="url(#wallV)"/>
<rect x="1028" y="429.2" width="155" height="53.80000000000001" fill="url(#table2)"/>
<rect x="1028" y="429.2" width="155" height="53.80000000000001" fill="url(#tableH)"/>
<path d="M1090.1,396.7 L1173.5,422.4 Q1177,428 1175.4,432 L1157,457.4 L1080.4,432.1 Z" fill="#d6d6d2"/>
<path d="M1083,423 L1165,447 L1157,457.4 L1080.4,432.1 Z" fill="#a8a8a3"/>
<path d="M1085,425 L1125,436" stroke="#7a7a76" stroke-width="1.1" fill="none" opacity="0.7"/>
<path d="M1100,480 L1156,457.4 L1172,452 L1180,480 Z" fill="#7c7a66" opacity="0.85"/>
<path d="M1127,440 L1142.5,426.3 L1154.1,421.5 L1173.5,423.4 Q1177,428 1175.4,432 L1170.6,449.6 L1157,457.4 L1129.8,445.7 Z" fill="url(#gelT)"/>
<path d="M1090.1,396.7 L1173.5,422.4" stroke="#9a9a96" stroke-width="1" fill="none"/>
<path d="M1080.4,432.1 L1157,457.4" stroke="#6a6a66" stroke-width="1" fill="none"/>
<rect x="1037.7" y="459.3" width="42.7" height="22" fill="url(#reflG)"/>
<path d="M1036.7,434.5 Q1036.7,432.1 1041,432.1 L1076,432.1 Q1080.4,432.1 1080.4,434.5 L1080.4,459.3 L1036.7,459.3 Z" fill="#1d1d1d"/>
<path d="M1037.2,435 Q1058,430 1080,435" stroke="#3a3a3a" stroke-width="1.2" fill="none"/>
<path d="M1079,428 L1088,394 L1091.5,395.5 L1083,430 Z" fill="#6e6e6a"/>
<path d="M1062.9,384.6 Q1055,388 1051.8,394.3 L1050.3,422.4 Q1060,428 1074.6,431.2 L1082.3,426.3 L1090.1,395.8 L1086.2,391.9 Z" fill="#1c1c1c"/>
</g></g>
</svg>
</body></html>
